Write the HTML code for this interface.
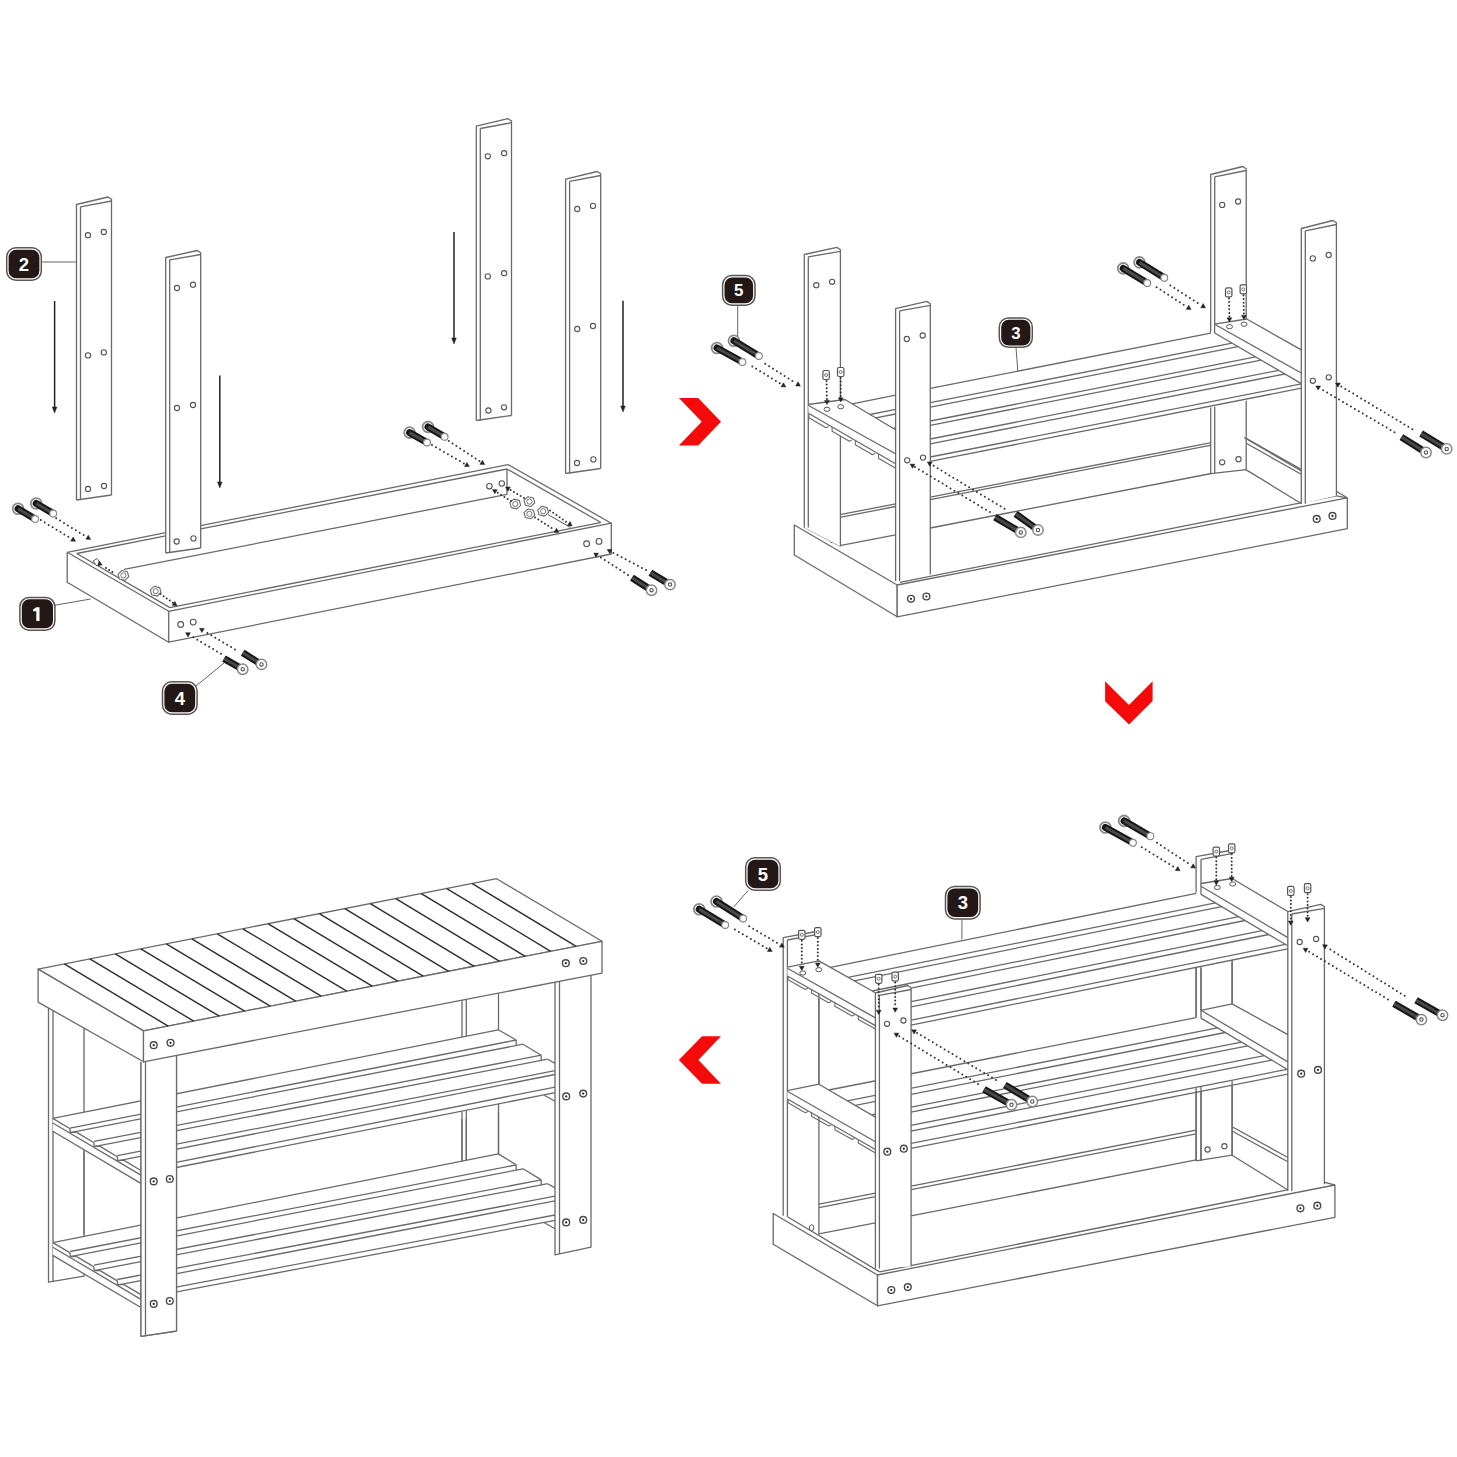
<!DOCTYPE html>
<html><head><meta charset="utf-8"><style>
html,body{margin:0;padding:0;background:#fff;}
svg{display:block;}
</style></head><body>
<svg width="1457" height="1457" viewBox="0 0 1457 1457">
<rect width="1457" height="1457" fill="#fff"/>
<polygon points="76.5,204.5 108.0,197.0 111.5,199.3 111.5,495.0 76.5,500.0" fill="#fff" stroke="none" stroke-width="0" stroke-linejoin="round"/>
<polyline points="76.5,500.0 76.5,204.5 108.0,197.0 111.5,199.3 111.5,495.0" fill="none" stroke="#6a6a6a" stroke-width="1.3" stroke-linejoin="round"/>
<line x1="80.5" y1="206.8" x2="111.5" y2="201.0" stroke="#6a6a6a" stroke-width="1.3"/>
<line x1="80.5" y1="206.8" x2="80.5" y2="500.0" stroke="#6a6a6a" stroke-width="1.3"/>
<line x1="76.5" y1="500.0" x2="111.5" y2="495.0" stroke="#6a6a6a" stroke-width="1.3"/>
<circle cx="88.0" cy="235.2" r="2.6" fill="#fff" stroke="#555" stroke-width="1.1"/>
<circle cx="103.8" cy="232.0" r="2.6" fill="#fff" stroke="#555" stroke-width="1.1"/>
<circle cx="88.0" cy="355.4" r="2.6" fill="#fff" stroke="#555" stroke-width="1.1"/>
<circle cx="103.8" cy="352.4" r="2.6" fill="#fff" stroke="#555" stroke-width="1.1"/>
<circle cx="88.0" cy="489.0" r="2.6" fill="#fff" stroke="#555" stroke-width="1.1"/>
<circle cx="104.0" cy="486.0" r="2.6" fill="#fff" stroke="#555" stroke-width="1.1"/>
<polygon points="165.7,257.5 197.2,250.5 200.7,252.8 200.7,548.0 165.7,553.0" fill="#fff" stroke="none" stroke-width="0" stroke-linejoin="round"/>
<polyline points="165.7,553.0 165.7,257.5 197.2,250.5 200.7,252.8 200.7,548.0" fill="none" stroke="#6a6a6a" stroke-width="1.3" stroke-linejoin="round"/>
<line x1="169.7" y1="259.8" x2="200.7" y2="254.5" stroke="#6a6a6a" stroke-width="1.3"/>
<line x1="169.7" y1="259.8" x2="169.7" y2="553.0" stroke="#6a6a6a" stroke-width="1.3"/>
<line x1="165.7" y1="553.0" x2="200.7" y2="548.0" stroke="#6a6a6a" stroke-width="1.3"/>
<circle cx="177.0" cy="288.0" r="2.6" fill="#fff" stroke="#555" stroke-width="1.1"/>
<circle cx="193.0" cy="284.7" r="2.6" fill="#fff" stroke="#555" stroke-width="1.1"/>
<circle cx="177.0" cy="408.0" r="2.6" fill="#fff" stroke="#555" stroke-width="1.1"/>
<circle cx="193.0" cy="405.0" r="2.6" fill="#fff" stroke="#555" stroke-width="1.1"/>
<circle cx="176.7" cy="541.5" r="2.6" fill="#fff" stroke="#555" stroke-width="1.1"/>
<circle cx="193.5" cy="538.4" r="2.6" fill="#fff" stroke="#555" stroke-width="1.1"/>
<polygon points="476.3,126.2 508.0,118.7 511.5,121.0 511.5,415.5 476.3,420.5" fill="#fff" stroke="none" stroke-width="0" stroke-linejoin="round"/>
<polyline points="476.3,420.5 476.3,126.2 508.0,118.7 511.5,121.0 511.5,415.5" fill="none" stroke="#6a6a6a" stroke-width="1.3" stroke-linejoin="round"/>
<line x1="480.3" y1="128.5" x2="511.5" y2="122.7" stroke="#6a6a6a" stroke-width="1.3"/>
<line x1="480.3" y1="128.5" x2="480.3" y2="420.5" stroke="#6a6a6a" stroke-width="1.3"/>
<line x1="476.3" y1="420.5" x2="511.5" y2="415.5" stroke="#6a6a6a" stroke-width="1.3"/>
<circle cx="487.8" cy="156.3" r="2.6" fill="#fff" stroke="#555" stroke-width="1.1"/>
<circle cx="504.1" cy="153.2" r="2.6" fill="#fff" stroke="#555" stroke-width="1.1"/>
<circle cx="487.8" cy="276.4" r="2.6" fill="#fff" stroke="#555" stroke-width="1.1"/>
<circle cx="504.1" cy="273.2" r="2.6" fill="#fff" stroke="#555" stroke-width="1.1"/>
<circle cx="488.4" cy="410.5" r="2.6" fill="#fff" stroke="#555" stroke-width="1.1"/>
<circle cx="504.0" cy="407.3" r="2.6" fill="#fff" stroke="#555" stroke-width="1.1"/>
<polygon points="565.6,179.1 597.2,171.5 600.7,173.8 600.7,468.5 565.6,473.5" fill="#fff" stroke="none" stroke-width="0" stroke-linejoin="round"/>
<polyline points="565.6,473.5 565.6,179.1 597.2,171.5 600.7,173.8 600.7,468.5" fill="none" stroke="#6a6a6a" stroke-width="1.3" stroke-linejoin="round"/>
<line x1="569.6" y1="181.4" x2="600.7" y2="175.5" stroke="#6a6a6a" stroke-width="1.3"/>
<line x1="569.6" y1="181.4" x2="569.6" y2="473.5" stroke="#6a6a6a" stroke-width="1.3"/>
<line x1="565.6" y1="473.5" x2="600.7" y2="468.5" stroke="#6a6a6a" stroke-width="1.3"/>
<circle cx="577.2" cy="209.0" r="2.6" fill="#fff" stroke="#555" stroke-width="1.1"/>
<circle cx="593.0" cy="205.9" r="2.6" fill="#fff" stroke="#555" stroke-width="1.1"/>
<circle cx="577.2" cy="329.0" r="2.6" fill="#fff" stroke="#555" stroke-width="1.1"/>
<circle cx="593.0" cy="326.0" r="2.6" fill="#fff" stroke="#555" stroke-width="1.1"/>
<circle cx="577.0" cy="463.0" r="2.6" fill="#fff" stroke="#555" stroke-width="1.1"/>
<circle cx="593.4" cy="459.4" r="2.6" fill="#fff" stroke="#555" stroke-width="1.1"/>
<line x1="54.6" y1="301.0" x2="54.6" y2="409.0" stroke="#222" stroke-width="1.5"/>
<polygon points="54.6,413.0 52.3,407.0 56.9,407.0" fill="#222" stroke="#222" stroke-width="0.5" stroke-linejoin="round"/>
<line x1="219.8" y1="375.6" x2="219.8" y2="484.0" stroke="#222" stroke-width="1.5"/>
<polygon points="219.8,488.0 217.5,482.0 222.1,482.0" fill="#222" stroke="#222" stroke-width="0.5" stroke-linejoin="round"/>
<line x1="454.0" y1="232.0" x2="454.0" y2="340.0" stroke="#222" stroke-width="1.5"/>
<polygon points="454.0,344.0 451.7,338.0 456.3,338.0" fill="#222" stroke="#222" stroke-width="0.5" stroke-linejoin="round"/>
<line x1="623.0" y1="300.8" x2="623.0" y2="408.0" stroke="#222" stroke-width="1.5"/>
<polygon points="623.0,412.0 620.7,406.0 625.3,406.0" fill="#222" stroke="#222" stroke-width="0.5" stroke-linejoin="round"/>
<polyline points="67.2,552.3 67.2,582.3 168.7,642.2 168.7,611.3 67.2,552.3" fill="none" stroke="#6a6a6a" stroke-width="1.3" stroke-linejoin="round"/>
<polyline points="168.7,611.3 611.3,523.2 611.3,554.0 168.7,642.2" fill="none" stroke="#6a6a6a" stroke-width="1.3" stroke-linejoin="round"/>
<polyline points="508.0,464.6 611.3,523.2" fill="none" stroke="#6a6a6a" stroke-width="1.3" stroke-linejoin="round"/>
<line x1="507.0" y1="469.0" x2="601.0" y2="522.5" stroke="#6a6a6a" stroke-width="1.3"/>
<line x1="67.2" y1="552.3" x2="165.7" y2="532.7" stroke="#6a6a6a" stroke-width="1.3"/>
<line x1="200.7" y1="525.7" x2="508.0" y2="464.6" stroke="#6a6a6a" stroke-width="1.3"/>
<line x1="76.8" y1="553.5" x2="165.7" y2="535.8" stroke="#6a6a6a" stroke-width="1.3"/>
<line x1="200.7" y1="528.8" x2="507.0" y2="469.0" stroke="#6a6a6a" stroke-width="1.3"/>
<line x1="76.8" y1="553.5" x2="169.9" y2="607.6" stroke="#6a6a6a" stroke-width="1.3"/>
<line x1="169.9" y1="607.6" x2="600.4" y2="522.6" stroke="#6a6a6a" stroke-width="1.3"/>
<line x1="124.0" y1="569.4" x2="507.0" y2="494.4" stroke="#6a6a6a" stroke-width="1.3"/>
<line x1="507.0" y1="469.0" x2="507.0" y2="494.4" stroke="#6a6a6a" stroke-width="1.3"/>
<circle cx="180.7" cy="624.5" r="2.9" fill="#fff" stroke="#555" stroke-width="1.1"/>
<circle cx="193.2" cy="622.1" r="2.9" fill="#fff" stroke="#555" stroke-width="1.1"/>
<circle cx="586.6" cy="543.8" r="2.9" fill="#fff" stroke="#555" stroke-width="1.1"/>
<circle cx="599.0" cy="541.4" r="2.9" fill="#fff" stroke="#555" stroke-width="1.1"/>
<circle cx="489.4" cy="486.2" r="2.7" fill="#fff" stroke="#555" stroke-width="1.1"/>
<circle cx="501.8" cy="483.5" r="2.7" fill="#fff" stroke="#555" stroke-width="1.1"/>
<polygon points="128.8,576.7 124.8,580.3 119.4,579.0 118.0,574.1 122.0,570.5 127.4,571.8" fill="#fff" stroke="#6a6a6a" stroke-width="1.1" stroke-linejoin="round"/>
<circle cx="123.4" cy="575.4" r="2.6" fill="#fff" stroke="#777" stroke-width="1"/>
<polygon points="161.1,592.5 157.1,596.1 151.7,594.8 150.3,589.9 154.3,586.3 159.7,587.6" fill="#fff" stroke="#6a6a6a" stroke-width="1.1" stroke-linejoin="round"/>
<circle cx="155.7" cy="591.2" r="2.6" fill="#fff" stroke="#777" stroke-width="1"/>
<polygon points="520.7,505.3 516.7,508.9 511.3,507.6 509.9,502.7 513.9,499.1 519.3,500.4" fill="#fff" stroke="#6a6a6a" stroke-width="1.1" stroke-linejoin="round"/>
<circle cx="515.3" cy="504.0" r="2.6" fill="#fff" stroke="#777" stroke-width="1"/>
<polygon points="534.8,502.9 530.8,506.5 525.4,505.2 524.0,500.3 528.0,496.7 533.4,498.0" fill="#fff" stroke="#6a6a6a" stroke-width="1.1" stroke-linejoin="round"/>
<circle cx="529.4" cy="501.6" r="2.6" fill="#fff" stroke="#777" stroke-width="1"/>
<polygon points="534.8,515.2 530.8,518.8 525.4,517.5 524.0,512.6 528.0,509.0 533.4,510.3" fill="#fff" stroke="#6a6a6a" stroke-width="1.1" stroke-linejoin="round"/>
<circle cx="529.4" cy="513.9" r="2.6" fill="#fff" stroke="#777" stroke-width="1"/>
<polygon points="548.5,512.5 544.5,516.1 539.1,514.8 537.7,509.9 541.7,506.3 547.1,507.6" fill="#fff" stroke="#6a6a6a" stroke-width="1.1" stroke-linejoin="round"/>
<circle cx="543.1" cy="511.2" r="2.6" fill="#fff" stroke="#777" stroke-width="1"/>
<polygon points="93.0,561.0 97.0,558.5 101.0,563.5 97.0,566.0" fill="#fff" stroke="#666" stroke-width="1" stroke-linejoin="round"/>
<circle cx="106.0" cy="568.0" r="1.0" fill="#333"/>
<circle cx="109.2" cy="570.1" r="1.0" fill="#333"/>
<circle cx="112.4" cy="572.1" r="1.0" fill="#333"/>
<polygon points="102.2,565.1 99.0,561.2 97.8,565.5" fill="#222" stroke="#222" stroke-width="0.5" stroke-linejoin="round"/>
<circle cx="160.5" cy="594.0" r="1.0" fill="#333"/>
<circle cx="163.6" cy="596.2" r="1.0" fill="#333"/>
<circle cx="166.7" cy="598.4" r="1.0" fill="#333"/>
<circle cx="169.8" cy="600.6" r="1.0" fill="#333"/>
<circle cx="172.9" cy="602.8" r="1.0" fill="#333"/>
<polygon points="177.0,605.8 172.2,605.3 175.0,601.4" fill="#222" stroke="#222" stroke-width="0.5" stroke-linejoin="round"/>
<circle cx="511.0" cy="501.0" r="1.0" fill="#333"/>
<circle cx="507.7" cy="498.9" r="1.0" fill="#333"/>
<circle cx="504.4" cy="496.9" r="1.0" fill="#333"/>
<circle cx="501.1" cy="494.8" r="1.0" fill="#333"/>
<circle cx="497.8" cy="492.8" r="1.0" fill="#333"/>
<polygon points="492.5,489.5 497.3,489.7 494.8,493.8" fill="#222" stroke="#222" stroke-width="0.5" stroke-linejoin="round"/>
<circle cx="524.0" cy="498.0" r="1.0" fill="#333"/>
<circle cx="520.6" cy="496.0" r="1.0" fill="#333"/>
<circle cx="517.3" cy="494.0" r="1.0" fill="#333"/>
<circle cx="513.9" cy="492.0" r="1.0" fill="#333"/>
<circle cx="510.6" cy="490.0" r="1.0" fill="#333"/>
<polygon points="505.5,487.0 510.3,487.1 507.9,491.2" fill="#222" stroke="#222" stroke-width="0.5" stroke-linejoin="round"/>
<circle cx="535.0" cy="517.5" r="1.0" fill="#333"/>
<circle cx="538.3" cy="519.6" r="1.0" fill="#333"/>
<circle cx="541.6" cy="521.7" r="1.0" fill="#333"/>
<circle cx="544.9" cy="523.7" r="1.0" fill="#333"/>
<circle cx="548.2" cy="525.8" r="1.0" fill="#333"/>
<circle cx="551.5" cy="527.9" r="1.0" fill="#333"/>
<polygon points="558.8,532.5 554.0,532.3 556.5,528.2" fill="#222" stroke="#222" stroke-width="0.5" stroke-linejoin="round"/>
<line x1="548.0" y1="514.5" x2="570.5" y2="527.5" stroke="#555" stroke-width="1.0"/>
<circle cx="550.0" cy="510.5" r="1.0" fill="#333"/>
<circle cx="553.2" cy="512.7" r="1.0" fill="#333"/>
<circle cx="556.4" cy="515.0" r="1.0" fill="#333"/>
<circle cx="559.6" cy="517.2" r="1.0" fill="#333"/>
<circle cx="562.8" cy="519.4" r="1.0" fill="#333"/>
<circle cx="566.0" cy="521.7" r="1.0" fill="#333"/>
<polygon points="572.2,526.0 567.4,525.6 570.1,521.6" fill="#222" stroke="#222" stroke-width="0.5" stroke-linejoin="round"/>
<circle cx="18.1" cy="508.8" r="5.4" fill="#fff" stroke="#8a8a8a" stroke-width="1.8"/>
<line x1="18.1" y1="508.8" x2="35.1" y2="519.0" stroke="#161616" stroke-width="7" stroke-linecap="round"/>
<line x1="18.1" y1="508.8" x2="35.1" y2="519.0" stroke="#4a4a4a" stroke-width="3"/>
<circle cx="35.1" cy="519.0" r="3.4" fill="#fff" stroke="#888" stroke-width="1.1"/>
<circle cx="36.2" cy="503.5" r="5.4" fill="#fff" stroke="#8a8a8a" stroke-width="1.8"/>
<line x1="36.2" y1="503.5" x2="53.2" y2="513.5" stroke="#161616" stroke-width="7" stroke-linecap="round"/>
<line x1="36.2" y1="503.5" x2="53.2" y2="513.5" stroke="#4a4a4a" stroke-width="3"/>
<circle cx="53.2" cy="513.5" r="3.4" fill="#fff" stroke="#888" stroke-width="1.1"/>
<circle cx="40.8" cy="520.1" r="1.0" fill="#333"/>
<circle cx="44.7" cy="522.5" r="1.0" fill="#333"/>
<circle cx="48.7" cy="524.9" r="1.0" fill="#333"/>
<circle cx="52.6" cy="527.3" r="1.0" fill="#333"/>
<circle cx="56.5" cy="529.7" r="1.0" fill="#333"/>
<circle cx="60.5" cy="532.0" r="1.0" fill="#333"/>
<circle cx="64.4" cy="534.4" r="1.0" fill="#333"/>
<circle cx="68.3" cy="536.8" r="1.0" fill="#333"/>
<polygon points="75.5,541.2 70.7,541.1 73.2,537.0" fill="#222" stroke="#222" stroke-width="0.5" stroke-linejoin="round"/>
<circle cx="56.2" cy="518.2" r="1.0" fill="#333"/>
<circle cx="60.1" cy="520.6" r="1.0" fill="#333"/>
<circle cx="64.0" cy="523.0" r="1.0" fill="#333"/>
<circle cx="67.9" cy="525.4" r="1.0" fill="#333"/>
<circle cx="71.9" cy="527.9" r="1.0" fill="#333"/>
<circle cx="75.8" cy="530.3" r="1.0" fill="#333"/>
<circle cx="79.7" cy="532.7" r="1.0" fill="#333"/>
<circle cx="83.6" cy="535.1" r="1.0" fill="#333"/>
<polygon points="90.6,539.4 85.8,539.2 88.3,535.2" fill="#222" stroke="#222" stroke-width="0.5" stroke-linejoin="round"/>
<circle cx="409.6" cy="432.6" r="5.4" fill="#fff" stroke="#8a8a8a" stroke-width="1.8"/>
<line x1="409.6" y1="432.6" x2="427.0" y2="442.5" stroke="#161616" stroke-width="7" stroke-linecap="round"/>
<line x1="409.6" y1="432.6" x2="427.0" y2="442.5" stroke="#4a4a4a" stroke-width="3"/>
<circle cx="427.0" cy="442.5" r="3.4" fill="#fff" stroke="#888" stroke-width="1.1"/>
<circle cx="428.0" cy="426.9" r="5.4" fill="#fff" stroke="#8a8a8a" stroke-width="1.8"/>
<line x1="428.0" y1="426.9" x2="444.6" y2="436.8" stroke="#161616" stroke-width="7" stroke-linecap="round"/>
<line x1="428.0" y1="426.9" x2="444.6" y2="436.8" stroke="#4a4a4a" stroke-width="3"/>
<circle cx="444.6" cy="436.8" r="3.4" fill="#fff" stroke="#888" stroke-width="1.1"/>
<circle cx="432.0" cy="445.0" r="1.0" fill="#333"/>
<circle cx="436.0" cy="447.3" r="1.0" fill="#333"/>
<circle cx="440.0" cy="449.6" r="1.0" fill="#333"/>
<circle cx="443.9" cy="451.9" r="1.0" fill="#333"/>
<circle cx="447.9" cy="454.2" r="1.0" fill="#333"/>
<circle cx="451.9" cy="456.5" r="1.0" fill="#333"/>
<circle cx="455.9" cy="458.8" r="1.0" fill="#333"/>
<circle cx="459.9" cy="461.1" r="1.0" fill="#333"/>
<circle cx="463.8" cy="463.4" r="1.0" fill="#333"/>
<polygon points="469.3,466.6 464.5,466.6 466.9,462.4" fill="#222" stroke="#222" stroke-width="0.5" stroke-linejoin="round"/>
<circle cx="448.7" cy="440.9" r="1.0" fill="#333"/>
<circle cx="452.5" cy="443.4" r="1.0" fill="#333"/>
<circle cx="456.4" cy="446.0" r="1.0" fill="#333"/>
<circle cx="460.2" cy="448.5" r="1.0" fill="#333"/>
<circle cx="464.1" cy="451.0" r="1.0" fill="#333"/>
<circle cx="467.9" cy="453.5" r="1.0" fill="#333"/>
<circle cx="471.8" cy="456.1" r="1.0" fill="#333"/>
<circle cx="475.6" cy="458.6" r="1.0" fill="#333"/>
<circle cx="479.4" cy="461.1" r="1.0" fill="#333"/>
<polygon points="484.7,464.6 479.9,464.3 482.5,460.3" fill="#222" stroke="#222" stroke-width="0.5" stroke-linejoin="round"/>
<line x1="224.0" y1="658.6" x2="242.7" y2="669.2" stroke="#161616" stroke-width="7"/>
<line x1="224.0" y1="658.6" x2="242.7" y2="669.2" stroke="#474747" stroke-width="3"/>
<circle cx="242.7" cy="669.2" r="5.2" fill="#fff" stroke="#888" stroke-width="1.5"/>
<circle cx="242.7" cy="669.2" r="1.7" fill="#fff" stroke="#555" stroke-width="1.1"/>
<line x1="242.7" y1="652.8" x2="261.5" y2="664.4" stroke="#161616" stroke-width="7"/>
<line x1="242.7" y1="652.8" x2="261.5" y2="664.4" stroke="#474747" stroke-width="3"/>
<circle cx="261.5" cy="664.4" r="5.2" fill="#fff" stroke="#888" stroke-width="1.5"/>
<circle cx="261.5" cy="664.4" r="1.7" fill="#fff" stroke="#555" stroke-width="1.1"/>
<circle cx="221.0" cy="653.8" r="1.0" fill="#333"/>
<circle cx="217.0" cy="651.4" r="1.0" fill="#333"/>
<circle cx="213.1" cy="649.1" r="1.0" fill="#333"/>
<circle cx="209.1" cy="646.7" r="1.0" fill="#333"/>
<circle cx="205.2" cy="644.4" r="1.0" fill="#333"/>
<circle cx="201.2" cy="642.0" r="1.0" fill="#333"/>
<circle cx="197.3" cy="639.7" r="1.0" fill="#333"/>
<circle cx="193.3" cy="637.3" r="1.0" fill="#333"/>
<polygon points="185.6,632.7 190.4,632.8 188.0,636.9" fill="#222" stroke="#222" stroke-width="0.5" stroke-linejoin="round"/>
<circle cx="235.0" cy="649.5" r="1.0" fill="#333"/>
<circle cx="231.1" cy="647.1" r="1.0" fill="#333"/>
<circle cx="227.1" cy="644.8" r="1.0" fill="#333"/>
<circle cx="223.2" cy="642.4" r="1.0" fill="#333"/>
<circle cx="219.2" cy="640.1" r="1.0" fill="#333"/>
<circle cx="215.3" cy="637.7" r="1.0" fill="#333"/>
<circle cx="211.3" cy="635.3" r="1.0" fill="#333"/>
<circle cx="207.4" cy="633.0" r="1.0" fill="#333"/>
<polygon points="199.5,628.3 204.3,628.4 201.9,632.5" fill="#222" stroke="#222" stroke-width="0.5" stroke-linejoin="round"/>
<line x1="632.0" y1="577.8" x2="651.5" y2="590.2" stroke="#161616" stroke-width="7"/>
<line x1="632.0" y1="577.8" x2="651.5" y2="590.2" stroke="#474747" stroke-width="3"/>
<circle cx="651.5" cy="590.2" r="5.2" fill="#fff" stroke="#888" stroke-width="1.5"/>
<circle cx="651.5" cy="590.2" r="1.7" fill="#fff" stroke="#555" stroke-width="1.1"/>
<line x1="650.4" y1="572.7" x2="670.0" y2="584.6" stroke="#161616" stroke-width="7"/>
<line x1="650.4" y1="572.7" x2="670.0" y2="584.6" stroke="#474747" stroke-width="3"/>
<circle cx="670.0" cy="584.6" r="5.2" fill="#fff" stroke="#888" stroke-width="1.5"/>
<circle cx="670.0" cy="584.6" r="1.7" fill="#fff" stroke="#555" stroke-width="1.1"/>
<circle cx="628.0" cy="575.0" r="1.0" fill="#333"/>
<circle cx="624.1" cy="572.5" r="1.0" fill="#333"/>
<circle cx="620.3" cy="570.0" r="1.0" fill="#333"/>
<circle cx="616.4" cy="567.5" r="1.0" fill="#333"/>
<circle cx="612.5" cy="565.0" r="1.0" fill="#333"/>
<circle cx="608.7" cy="562.6" r="1.0" fill="#333"/>
<circle cx="604.8" cy="560.1" r="1.0" fill="#333"/>
<circle cx="600.9" cy="557.6" r="1.0" fill="#333"/>
<polygon points="593.8,553.0 598.6,553.3 596.0,557.3" fill="#222" stroke="#222" stroke-width="0.5" stroke-linejoin="round"/>
<circle cx="646.0" cy="570.0" r="1.0" fill="#333"/>
<circle cx="641.9" cy="567.9" r="1.0" fill="#333"/>
<circle cx="637.9" cy="565.7" r="1.0" fill="#333"/>
<circle cx="633.8" cy="563.6" r="1.0" fill="#333"/>
<circle cx="629.7" cy="561.4" r="1.0" fill="#333"/>
<circle cx="625.6" cy="559.3" r="1.0" fill="#333"/>
<circle cx="621.6" cy="557.2" r="1.0" fill="#333"/>
<circle cx="617.5" cy="555.0" r="1.0" fill="#333"/>
<circle cx="613.4" cy="552.9" r="1.0" fill="#333"/>
<polygon points="607.2,549.6 612.0,549.4 609.8,553.7" fill="#222" stroke="#222" stroke-width="0.5" stroke-linejoin="round"/>
<rect x="6.7" y="247.8" width="34.6" height="32.4" rx="9.2" fill="#fff" stroke="#5a5452" stroke-width="1.5"/>
<rect x="8.6" y="249.7" width="30.8" height="28.6" rx="7.5" fill="#231815"/>
<text x="24.0" y="270.6" font-family="Liberation Sans" font-weight="bold" font-size="18.5" fill="#fff" text-anchor="middle">2</text>
<line x1="41.5" y1="262.0" x2="76.5" y2="262.0" stroke="#666" stroke-width="1"/>
<rect x="19.9" y="597.4" width="35" height="32.8" rx="9.2" fill="#fff" stroke="#5a5452" stroke-width="1.5"/>
<rect x="21.8" y="599.3" width="31.2" height="29.0" rx="7.5" fill="#231815"/>
<path d="M36.3,607.2 L39.5,607.2 L39.5,621.0 L36.3,621.0 L36.3,611.2 L33.1,611.2 L33.1,609.4 Z" fill="#fff"/>
<line x1="55.0" y1="605.2" x2="90.6" y2="599.0" stroke="#666" stroke-width="1"/>
<rect x="162.5" y="681.8" width="34.6" height="32.4" rx="9.2" fill="#fff" stroke="#5a5452" stroke-width="1.5"/>
<rect x="164.4" y="683.7" width="30.8" height="28.6" rx="7.5" fill="#231815"/>
<text x="179.8" y="704.6" font-family="Liberation Sans" font-weight="bold" font-size="18.5" fill="#fff" text-anchor="middle">4</text>
<line x1="196.0" y1="686.0" x2="224.0" y2="663.0" stroke="#666" stroke-width="1"/>
<polygon points="678.9,398.1 698.2,398.1 721.0,421.7 698.2,445.6 678.9,445.6 701.7,421.7" fill="#f50a0a"/>
<polygon points="1105.1,681.3 1105.1,701.3 1129.0,724.4 1152.6,701.0 1152.6,681.3 1129.0,705.1" fill="#f50a0a"/>
<polygon points="678.9,1060.1 702.0,1036.2 721.0,1036.2 698.4,1060.1 721.0,1083.7 702.0,1083.7" fill="#f50a0a"/>
<line x1="839.8" y1="514.7" x2="895.6" y2="503.9" stroke="#6a6a6a" stroke-width="1.3"/>
<line x1="839.8" y1="517.3" x2="895.6" y2="506.5" stroke="#6a6a6a" stroke-width="1.3"/>
<line x1="930.3" y1="497.1" x2="1211.4" y2="442.6" stroke="#6a6a6a" stroke-width="1.3"/>
<line x1="930.3" y1="499.7" x2="1211.4" y2="445.2" stroke="#6a6a6a" stroke-width="1.3"/>
<line x1="839.8" y1="545.6" x2="895.6" y2="534.8" stroke="#6a6a6a" stroke-width="1.3"/>
<line x1="930.3" y1="528.0" x2="1211.4" y2="473.5" stroke="#6a6a6a" stroke-width="1.3"/>
<line x1="1245.8" y1="438.1" x2="1301.6" y2="469.6" stroke="#6a6a6a" stroke-width="1.3"/>
<line x1="1245.8" y1="443.0" x2="1301.6" y2="474.5" stroke="#6a6a6a" stroke-width="1.3"/>
<line x1="1245.8" y1="469.6" x2="1301.6" y2="503.7" stroke="#6a6a6a" stroke-width="1.3"/>
<line x1="804.0" y1="527.0" x2="839.8" y2="546.0" stroke="#6a6a6a" stroke-width="1.3"/>
<ellipse cx="832" cy="539.6" rx="2.2" ry="3" fill="#fff" stroke="#555" stroke-width="1"/>
<polygon points="804.3,254.5 836.9,247.4 840.4,249.7 840.4,546.4 804.3,527.5" fill="#fff" stroke="none" stroke-width="0" stroke-linejoin="round"/>
<polyline points="804.3,527.5 804.3,254.5 836.9,247.4 840.4,249.7 840.4,546.4" fill="none" stroke="#6a6a6a" stroke-width="1.3" stroke-linejoin="round"/>
<line x1="808.3" y1="256.8" x2="840.4" y2="251.4" stroke="#6a6a6a" stroke-width="1.3"/>
<line x1="808.3" y1="256.8" x2="808.3" y2="527.5" stroke="#6a6a6a" stroke-width="1.3"/>
<circle cx="816.3" cy="285.2" r="2.6" fill="#fff" stroke="#555" stroke-width="1.1"/>
<circle cx="832.1" cy="281.8" r="2.6" fill="#fff" stroke="#555" stroke-width="1.1"/>
<polygon points="1210.7,174.5 1242.7,166.5 1246.2,168.8 1246.2,469.6 1210.7,473.6" fill="#fff" stroke="none" stroke-width="0" stroke-linejoin="round"/>
<polyline points="1210.7,473.6 1210.7,174.5 1242.7,166.5 1246.2,168.8 1246.2,469.6" fill="none" stroke="#6a6a6a" stroke-width="1.3" stroke-linejoin="round"/>
<line x1="1214.7" y1="176.8" x2="1246.2" y2="170.5" stroke="#6a6a6a" stroke-width="1.3"/>
<line x1="1214.7" y1="176.8" x2="1214.7" y2="473.6" stroke="#6a6a6a" stroke-width="1.3"/>
<line x1="1210.7" y1="473.6" x2="1246.2" y2="469.6" stroke="#6a6a6a" stroke-width="1.3"/>
<circle cx="1222.2" cy="204.9" r="2.6" fill="#fff" stroke="#555" stroke-width="1.1"/>
<circle cx="1238.1" cy="201.5" r="2.6" fill="#fff" stroke="#555" stroke-width="1.1"/>
<circle cx="1222.2" cy="462.3" r="2.6" fill="#fff" stroke="#555" stroke-width="1.1"/>
<circle cx="1238.5" cy="459.2" r="2.6" fill="#fff" stroke="#555" stroke-width="1.1"/>
<polygon points="808.1,404.5 845.0,399.5 1210.7,333.2 1214.6,324.2 1246.7,319.0 1301.3,349.9 1301.3,390.0 895.5,468.0 808.9,417.8" fill="#fff" stroke="none" stroke-width="0" stroke-linejoin="round"/>
<line x1="852.2" y1="403.8" x2="895.6" y2="395.2" stroke="#6a6a6a" stroke-width="1.3"/>
<line x1="930.3" y1="388.4" x2="1210.7" y2="333.2" stroke="#6a6a6a" stroke-width="1.3"/>
<line x1="870.0" y1="414.5" x2="895.6" y2="409.4" stroke="#6a6a6a" stroke-width="1.3"/>
<line x1="930.3" y1="402.6" x2="1232.1" y2="343.2" stroke="#6a6a6a" stroke-width="1.3"/>
<line x1="875.7" y1="417.9" x2="895.6" y2="414.0" stroke="#6a6a6a" stroke-width="1.3"/>
<line x1="930.3" y1="407.2" x2="1237.9" y2="346.6" stroke="#6a6a6a" stroke-width="1.3"/>
<line x1="893.1" y1="428.3" x2="895.6" y2="427.8" stroke="#6a6a6a" stroke-width="1.3"/>
<line x1="930.3" y1="421.0" x2="1255.6" y2="356.9" stroke="#6a6a6a" stroke-width="1.3"/>
<line x1="930.3" y1="425.3" x2="1261.1" y2="360.1" stroke="#6a6a6a" stroke-width="1.3"/>
<line x1="930.3" y1="439.0" x2="1278.6" y2="370.4" stroke="#6a6a6a" stroke-width="1.3"/>
<line x1="930.3" y1="443.8" x2="1284.7" y2="374.0" stroke="#6a6a6a" stroke-width="1.3"/>
<line x1="930.3" y1="457.0" x2="1301.3" y2="383.9" stroke="#6a6a6a" stroke-width="1.3"/>
<line x1="930.3" y1="461.3" x2="1301.3" y2="388.2" stroke="#6a6a6a" stroke-width="1.3"/>
<polyline points="808.1,404.5 845.0,399.5 895.5,429.8" fill="none" stroke="#6a6a6a" stroke-width="1.3" stroke-linejoin="round"/>
<line x1="808.1" y1="405.2" x2="895.5" y2="453.8" stroke="#6a6a6a" stroke-width="1.3"/>
<line x1="808.9" y1="413.5" x2="895.5" y2="463.8" stroke="#6a6a6a" stroke-width="1.3"/>
<polyline points="808.9,413.5 808.9,417.8 826.1,427.8 828.6,426.4" fill="none" stroke="#6a6a6a" stroke-width="1.1" stroke-linejoin="round"/>
<polyline points="832.1,427.0 832.1,431.3 849.3,441.3 851.8,439.9" fill="none" stroke="#6a6a6a" stroke-width="1.1" stroke-linejoin="round"/>
<polyline points="855.3,440.5 855.3,444.8 872.5,454.8 875.0,453.4" fill="none" stroke="#6a6a6a" stroke-width="1.1" stroke-linejoin="round"/>
<polyline points="878.5,453.9 878.5,458.2 895.7,468.2 898.2,466.8" fill="none" stroke="#6a6a6a" stroke-width="1.1" stroke-linejoin="round"/>
<polyline points="1214.6,324.2 1246.7,319.0 1301.3,349.9" fill="none" stroke="#6a6a6a" stroke-width="1.3" stroke-linejoin="round"/>
<line x1="1214.6" y1="324.2" x2="1301.3" y2="373.0" stroke="#6a6a6a" stroke-width="1.3"/>
<line x1="1214.7" y1="333.0" x2="1301.3" y2="383.6" stroke="#6a6a6a" stroke-width="1.3"/>
<line x1="1214.6" y1="324.2" x2="1214.6" y2="333.0" stroke="#6a6a6a" stroke-width="1.3"/>
<rect x="822.9" y="370.5" width="6.4" height="9" rx="1.5" fill="#fff" stroke="#555" stroke-width="1.2"/>
<circle cx="826.1" cy="375.0" r="1.5" fill="#fff" stroke="#555" stroke-width="0.8"/>
<rect x="837.5" y="367.5" width="6.4" height="9" rx="1.5" fill="#fff" stroke="#555" stroke-width="1.2"/>
<circle cx="840.7" cy="372.0" r="1.5" fill="#fff" stroke="#555" stroke-width="0.8"/>
<circle cx="826.5" cy="381.0" r="1.0" fill="#333"/>
<circle cx="826.6" cy="384.6" r="1.0" fill="#333"/>
<circle cx="826.7" cy="388.2" r="1.0" fill="#333"/>
<circle cx="826.7" cy="391.8" r="1.0" fill="#333"/>
<circle cx="826.8" cy="395.4" r="1.0" fill="#333"/>
<circle cx="826.9" cy="399.0" r="1.0" fill="#333"/>
<polygon points="827.0,404.5 824.5,400.4 829.3,400.2" fill="#222" stroke="#222" stroke-width="0.5" stroke-linejoin="round"/>
<circle cx="840.7" cy="378.0" r="1.0" fill="#333"/>
<circle cx="840.7" cy="381.6" r="1.0" fill="#333"/>
<circle cx="840.7" cy="385.2" r="1.0" fill="#333"/>
<circle cx="840.7" cy="388.8" r="1.0" fill="#333"/>
<circle cx="840.7" cy="392.4" r="1.0" fill="#333"/>
<circle cx="840.7" cy="396.0" r="1.0" fill="#333"/>
<polygon points="840.7,402.0 838.3,397.8 843.1,397.8" fill="#222" stroke="#222" stroke-width="0.5" stroke-linejoin="round"/>
<ellipse cx="827" cy="409.3" rx="3" ry="2.1" fill="#fff" stroke="#555" stroke-width="1"/>
<ellipse cx="840.7" cy="406.7" rx="3" ry="2.1" fill="#fff" stroke="#555" stroke-width="1"/>
<rect x="1225.5" y="287.9" width="6.4" height="9" rx="1.5" fill="#fff" stroke="#555" stroke-width="1.2"/>
<circle cx="1228.7" cy="292.4" r="1.5" fill="#fff" stroke="#555" stroke-width="0.8"/>
<rect x="1240.1" y="284.8" width="6.4" height="9" rx="1.5" fill="#fff" stroke="#555" stroke-width="1.2"/>
<circle cx="1243.3" cy="289.3" r="1.5" fill="#fff" stroke="#555" stroke-width="0.8"/>
<circle cx="1229.0" cy="298.5" r="1.0" fill="#333"/>
<circle cx="1229.1" cy="302.1" r="1.0" fill="#333"/>
<circle cx="1229.2" cy="305.7" r="1.0" fill="#333"/>
<circle cx="1229.2" cy="309.3" r="1.0" fill="#333"/>
<circle cx="1229.3" cy="312.9" r="1.0" fill="#333"/>
<circle cx="1229.4" cy="316.5" r="1.0" fill="#333"/>
<polygon points="1229.5,322.0 1227.0,317.9 1231.8,317.7" fill="#222" stroke="#222" stroke-width="0.5" stroke-linejoin="round"/>
<circle cx="1243.5" cy="295.5" r="1.0" fill="#333"/>
<circle cx="1243.6" cy="299.1" r="1.0" fill="#333"/>
<circle cx="1243.6" cy="302.7" r="1.0" fill="#333"/>
<circle cx="1243.7" cy="306.3" r="1.0" fill="#333"/>
<circle cx="1243.8" cy="309.9" r="1.0" fill="#333"/>
<circle cx="1243.9" cy="313.5" r="1.0" fill="#333"/>
<polygon points="1244.0,319.5 1241.5,315.4 1246.3,315.3" fill="#222" stroke="#222" stroke-width="0.5" stroke-linejoin="round"/>
<ellipse cx="1229.5" cy="326.7" rx="3" ry="2.1" fill="#fff" stroke="#555" stroke-width="1"/>
<ellipse cx="1244.1" cy="324.2" rx="3" ry="2.1" fill="#fff" stroke="#555" stroke-width="1"/>
<polygon points="794.3,525.0 897.2,585.0 897.2,616.8 794.3,555.0" fill="#fff" stroke="#6a6a6a" stroke-width="1.3" stroke-linejoin="round"/>
<polygon points="897.2,585.0 1347.3,497.8 1347.3,528.7 897.2,616.8" fill="#fff" stroke="#6a6a6a" stroke-width="1.3" stroke-linejoin="round"/>
<line x1="1244.0" y1="437.5" x2="1347.3" y2="497.8" stroke="#6a6a6a" stroke-width="1.3"/>
<line x1="899.9" y1="582.3" x2="1336.4" y2="495.8" stroke="#6a6a6a" stroke-width="1.3"/>
<line x1="1336.4" y1="495.8" x2="1347.3" y2="497.8" stroke="#6a6a6a" stroke-width="1.3"/>
<circle cx="911.0" cy="598.8" r="3.4" fill="#fff" stroke="#4a4a4a" stroke-width="1.4"/>
<circle cx="911.0" cy="598.8" r="1.1" fill="#222"/>
<circle cx="926.4" cy="596.5" r="3.4" fill="#fff" stroke="#4a4a4a" stroke-width="1.4"/>
<circle cx="926.4" cy="596.5" r="1.1" fill="#222"/>
<circle cx="1316.7" cy="518.9" r="3.4" fill="#fff" stroke="#4a4a4a" stroke-width="1.4"/>
<circle cx="1316.7" cy="518.9" r="1.1" fill="#222"/>
<circle cx="1332.5" cy="515.9" r="3.4" fill="#fff" stroke="#4a4a4a" stroke-width="1.4"/>
<circle cx="1332.5" cy="515.9" r="1.1" fill="#222"/>
<polygon points="895.6,308.6 926.8,301.4 930.3,303.7 930.3,574.5 895.6,581.0" fill="#fff" stroke="none" stroke-width="0" stroke-linejoin="round"/>
<polyline points="895.6,581.0 895.6,308.6 926.8,301.4 930.3,303.7 930.3,574.5" fill="none" stroke="#6a6a6a" stroke-width="1.3" stroke-linejoin="round"/>
<line x1="899.6" y1="310.9" x2="930.3" y2="305.4" stroke="#6a6a6a" stroke-width="1.3"/>
<line x1="899.6" y1="310.9" x2="899.6" y2="581.0" stroke="#6a6a6a" stroke-width="1.3"/>
<circle cx="906.8" cy="339.0" r="2.6" fill="#fff" stroke="#555" stroke-width="1.1"/>
<circle cx="922.7" cy="335.5" r="2.6" fill="#fff" stroke="#555" stroke-width="1.1"/>
<circle cx="907.2" cy="460.3" r="2.6" fill="#fff" stroke="#555" stroke-width="1.1"/>
<circle cx="923.0" cy="457.6" r="2.6" fill="#fff" stroke="#555" stroke-width="1.1"/>
<polygon points="1301.3,228.5 1332.9,220.5 1336.4,222.8 1336.4,495.8 1301.3,503.7" fill="#fff" stroke="none" stroke-width="0" stroke-linejoin="round"/>
<polyline points="1301.3,503.7 1301.3,228.5 1332.9,220.5 1336.4,222.8 1336.4,495.8" fill="none" stroke="#6a6a6a" stroke-width="1.3" stroke-linejoin="round"/>
<line x1="1305.3" y1="230.8" x2="1336.4" y2="224.5" stroke="#6a6a6a" stroke-width="1.3"/>
<line x1="1305.3" y1="230.8" x2="1305.3" y2="503.7" stroke="#6a6a6a" stroke-width="1.3"/>
<circle cx="1312.8" cy="258.4" r="2.6" fill="#fff" stroke="#555" stroke-width="1.1"/>
<circle cx="1328.7" cy="255.0" r="2.6" fill="#fff" stroke="#555" stroke-width="1.1"/>
<circle cx="1312.8" cy="380.8" r="2.6" fill="#fff" stroke="#555" stroke-width="1.1"/>
<circle cx="1328.7" cy="377.3" r="2.6" fill="#fff" stroke="#555" stroke-width="1.1"/>
<circle cx="717.0" cy="348.0" r="5.4" fill="#fff" stroke="#8a8a8a" stroke-width="1.8"/>
<line x1="717.0" y1="348.0" x2="742.4" y2="362.0" stroke="#161616" stroke-width="7" stroke-linecap="round"/>
<line x1="717.0" y1="348.0" x2="742.4" y2="362.0" stroke="#4a4a4a" stroke-width="3"/>
<circle cx="742.4" cy="362.0" r="3.4" fill="#fff" stroke="#888" stroke-width="1.1"/>
<circle cx="733.9" cy="340.8" r="5.4" fill="#fff" stroke="#8a8a8a" stroke-width="1.8"/>
<line x1="733.9" y1="340.8" x2="758.9" y2="356.0" stroke="#161616" stroke-width="7" stroke-linecap="round"/>
<line x1="733.9" y1="340.8" x2="758.9" y2="356.0" stroke="#4a4a4a" stroke-width="3"/>
<circle cx="758.9" cy="356.0" r="3.4" fill="#fff" stroke="#888" stroke-width="1.1"/>
<circle cx="752.3" cy="366.4" r="1.0" fill="#333"/>
<circle cx="756.2" cy="368.8" r="1.0" fill="#333"/>
<circle cx="760.1" cy="371.2" r="1.0" fill="#333"/>
<circle cx="764.1" cy="373.6" r="1.0" fill="#333"/>
<circle cx="768.0" cy="376.0" r="1.0" fill="#333"/>
<circle cx="771.9" cy="378.4" r="1.0" fill="#333"/>
<circle cx="775.8" cy="380.9" r="1.0" fill="#333"/>
<circle cx="779.7" cy="383.3" r="1.0" fill="#333"/>
<polygon points="785.8,387.0 781.0,386.8 783.5,382.8" fill="#222" stroke="#222" stroke-width="0.5" stroke-linejoin="round"/>
<circle cx="765.2" cy="363.8" r="1.0" fill="#333"/>
<circle cx="769.1" cy="366.3" r="1.0" fill="#333"/>
<circle cx="773.0" cy="368.7" r="1.0" fill="#333"/>
<circle cx="776.9" cy="371.2" r="1.0" fill="#333"/>
<circle cx="780.7" cy="373.6" r="1.0" fill="#333"/>
<circle cx="784.6" cy="376.1" r="1.0" fill="#333"/>
<circle cx="788.5" cy="378.6" r="1.0" fill="#333"/>
<circle cx="792.4" cy="381.0" r="1.0" fill="#333"/>
<polygon points="800.4,386.1 795.6,385.9 798.1,381.8" fill="#222" stroke="#222" stroke-width="0.5" stroke-linejoin="round"/>
<rect x="722.6" y="275.6" width="32.4" height="29.6" rx="9.2" fill="#fff" stroke="#5a5452" stroke-width="1.5"/>
<rect x="724.5" y="277.5" width="28.6" height="25.8" rx="7.5" fill="#231815"/>
<text x="738.8" y="296.4" font-family="Liberation Sans" font-weight="bold" font-size="16.9" fill="#fff" text-anchor="middle">5</text>
<line x1="737.7" y1="305.5" x2="737.7" y2="336.0" stroke="#666" stroke-width="1"/>
<circle cx="1123.2" cy="268.4" r="5.4" fill="#fff" stroke="#8a8a8a" stroke-width="1.8"/>
<line x1="1123.2" y1="268.4" x2="1147.2" y2="283.0" stroke="#161616" stroke-width="7" stroke-linecap="round"/>
<line x1="1123.2" y1="268.4" x2="1147.2" y2="283.0" stroke="#4a4a4a" stroke-width="3"/>
<circle cx="1147.2" cy="283.0" r="3.4" fill="#fff" stroke="#888" stroke-width="1.1"/>
<circle cx="1139.5" cy="262.4" r="5.4" fill="#fff" stroke="#8a8a8a" stroke-width="1.8"/>
<line x1="1139.5" y1="262.4" x2="1164.3" y2="277.8" stroke="#161616" stroke-width="7" stroke-linecap="round"/>
<line x1="1139.5" y1="262.4" x2="1164.3" y2="277.8" stroke="#4a4a4a" stroke-width="3"/>
<circle cx="1164.3" cy="277.8" r="3.4" fill="#fff" stroke="#888" stroke-width="1.1"/>
<circle cx="1156.6" cy="287.3" r="1.0" fill="#333"/>
<circle cx="1160.5" cy="289.8" r="1.0" fill="#333"/>
<circle cx="1164.3" cy="292.3" r="1.0" fill="#333"/>
<circle cx="1168.2" cy="294.8" r="1.0" fill="#333"/>
<circle cx="1172.0" cy="297.3" r="1.0" fill="#333"/>
<circle cx="1175.9" cy="299.8" r="1.0" fill="#333"/>
<circle cx="1179.8" cy="302.3" r="1.0" fill="#333"/>
<circle cx="1183.6" cy="304.8" r="1.0" fill="#333"/>
<polygon points="1191.0,309.6 1186.2,309.3 1188.8,305.3" fill="#222" stroke="#222" stroke-width="0.5" stroke-linejoin="round"/>
<circle cx="1170.4" cy="285.6" r="1.0" fill="#333"/>
<circle cx="1174.3" cy="288.1" r="1.0" fill="#333"/>
<circle cx="1178.2" cy="290.5" r="1.0" fill="#333"/>
<circle cx="1182.0" cy="293.0" r="1.0" fill="#333"/>
<circle cx="1185.9" cy="295.5" r="1.0" fill="#333"/>
<circle cx="1189.8" cy="297.9" r="1.0" fill="#333"/>
<circle cx="1193.7" cy="300.4" r="1.0" fill="#333"/>
<circle cx="1197.6" cy="302.9" r="1.0" fill="#333"/>
<polygon points="1205.5,307.9 1200.7,307.7 1203.2,303.6" fill="#222" stroke="#222" stroke-width="0.5" stroke-linejoin="round"/>
<line x1="995.0" y1="517.3" x2="1020.8" y2="532.4" stroke="#161616" stroke-width="7"/>
<line x1="995.0" y1="517.3" x2="1020.8" y2="532.4" stroke="#474747" stroke-width="3"/>
<circle cx="1020.8" cy="532.4" r="5.2" fill="#fff" stroke="#888" stroke-width="1.5"/>
<circle cx="1020.8" cy="532.4" r="1.7" fill="#fff" stroke="#555" stroke-width="1.1"/>
<line x1="1015.6" y1="513.8" x2="1038.0" y2="530.0" stroke="#161616" stroke-width="7"/>
<line x1="1015.6" y1="513.8" x2="1038.0" y2="530.0" stroke="#474747" stroke-width="3"/>
<circle cx="1038.0" cy="530.0" r="5.2" fill="#fff" stroke="#888" stroke-width="1.5"/>
<circle cx="1038.0" cy="530.0" r="1.7" fill="#fff" stroke="#555" stroke-width="1.1"/>
<circle cx="989.9" cy="512.1" r="1.0" fill="#333"/>
<circle cx="986.0" cy="509.7" r="1.0" fill="#333"/>
<circle cx="982.0" cy="507.4" r="1.0" fill="#333"/>
<circle cx="978.1" cy="505.0" r="1.0" fill="#333"/>
<circle cx="974.1" cy="502.6" r="1.0" fill="#333"/>
<circle cx="970.2" cy="500.2" r="1.0" fill="#333"/>
<circle cx="966.2" cy="497.9" r="1.0" fill="#333"/>
<circle cx="962.3" cy="495.5" r="1.0" fill="#333"/>
<circle cx="958.4" cy="493.1" r="1.0" fill="#333"/>
<circle cx="954.4" cy="490.8" r="1.0" fill="#333"/>
<circle cx="950.5" cy="488.4" r="1.0" fill="#333"/>
<circle cx="946.5" cy="486.0" r="1.0" fill="#333"/>
<circle cx="942.6" cy="483.6" r="1.0" fill="#333"/>
<circle cx="938.7" cy="481.3" r="1.0" fill="#333"/>
<circle cx="934.7" cy="478.9" r="1.0" fill="#333"/>
<circle cx="930.8" cy="476.5" r="1.0" fill="#333"/>
<circle cx="926.8" cy="474.2" r="1.0" fill="#333"/>
<circle cx="922.9" cy="471.8" r="1.0" fill="#333"/>
<circle cx="918.9" cy="469.4" r="1.0" fill="#333"/>
<circle cx="915.0" cy="467.1" r="1.0" fill="#333"/>
<polygon points="910.1,464.1 914.9,464.2 912.5,468.3" fill="#222" stroke="#222" stroke-width="0.5" stroke-linejoin="round"/>
<circle cx="1004.5" cy="508.7" r="1.0" fill="#333"/>
<circle cx="1000.6" cy="506.3" r="1.0" fill="#333"/>
<circle cx="996.6" cy="503.9" r="1.0" fill="#333"/>
<circle cx="992.7" cy="501.6" r="1.0" fill="#333"/>
<circle cx="988.8" cy="499.2" r="1.0" fill="#333"/>
<circle cx="984.8" cy="496.8" r="1.0" fill="#333"/>
<circle cx="980.9" cy="494.4" r="1.0" fill="#333"/>
<circle cx="976.9" cy="492.0" r="1.0" fill="#333"/>
<circle cx="973.0" cy="489.7" r="1.0" fill="#333"/>
<circle cx="969.1" cy="487.3" r="1.0" fill="#333"/>
<circle cx="965.1" cy="484.9" r="1.0" fill="#333"/>
<circle cx="961.2" cy="482.5" r="1.0" fill="#333"/>
<circle cx="957.3" cy="480.1" r="1.0" fill="#333"/>
<circle cx="953.3" cy="477.7" r="1.0" fill="#333"/>
<circle cx="949.4" cy="475.4" r="1.0" fill="#333"/>
<circle cx="945.5" cy="473.0" r="1.0" fill="#333"/>
<circle cx="941.5" cy="470.6" r="1.0" fill="#333"/>
<circle cx="937.6" cy="468.2" r="1.0" fill="#333"/>
<circle cx="933.7" cy="465.8" r="1.0" fill="#333"/>
<polygon points="927.3,462.0 932.1,462.1 929.7,466.2" fill="#222" stroke="#222" stroke-width="0.5" stroke-linejoin="round"/>
<line x1="1401.4" y1="437.1" x2="1426.0" y2="452.5" stroke="#161616" stroke-width="7"/>
<line x1="1401.4" y1="437.1" x2="1426.0" y2="452.5" stroke="#474747" stroke-width="3"/>
<circle cx="1426.0" cy="452.5" r="5.2" fill="#fff" stroke="#888" stroke-width="1.5"/>
<circle cx="1426.0" cy="452.5" r="1.7" fill="#fff" stroke="#555" stroke-width="1.1"/>
<line x1="1421.1" y1="433.6" x2="1446.7" y2="448.9" stroke="#161616" stroke-width="7"/>
<line x1="1421.1" y1="433.6" x2="1446.7" y2="448.9" stroke="#474747" stroke-width="3"/>
<circle cx="1446.7" cy="448.9" r="5.2" fill="#fff" stroke="#888" stroke-width="1.5"/>
<circle cx="1446.7" cy="448.9" r="1.7" fill="#fff" stroke="#555" stroke-width="1.1"/>
<circle cx="1394.5" cy="432.2" r="1.0" fill="#333"/>
<circle cx="1390.5" cy="429.9" r="1.0" fill="#333"/>
<circle cx="1386.6" cy="427.5" r="1.0" fill="#333"/>
<circle cx="1382.6" cy="425.2" r="1.0" fill="#333"/>
<circle cx="1378.6" cy="422.9" r="1.0" fill="#333"/>
<circle cx="1374.7" cy="420.5" r="1.0" fill="#333"/>
<circle cx="1370.7" cy="418.2" r="1.0" fill="#333"/>
<circle cx="1366.7" cy="415.9" r="1.0" fill="#333"/>
<circle cx="1362.8" cy="413.5" r="1.0" fill="#333"/>
<circle cx="1358.8" cy="411.2" r="1.0" fill="#333"/>
<circle cx="1354.9" cy="408.9" r="1.0" fill="#333"/>
<circle cx="1350.9" cy="406.5" r="1.0" fill="#333"/>
<circle cx="1346.9" cy="404.2" r="1.0" fill="#333"/>
<circle cx="1343.0" cy="401.9" r="1.0" fill="#333"/>
<circle cx="1339.0" cy="399.5" r="1.0" fill="#333"/>
<circle cx="1335.0" cy="397.2" r="1.0" fill="#333"/>
<circle cx="1331.1" cy="394.9" r="1.0" fill="#333"/>
<circle cx="1327.1" cy="392.5" r="1.0" fill="#333"/>
<circle cx="1323.1" cy="390.2" r="1.0" fill="#333"/>
<polygon points="1315.8,385.9 1320.6,386.0 1318.2,390.1" fill="#222" stroke="#222" stroke-width="0.5" stroke-linejoin="round"/>
<circle cx="1412.3" cy="429.2" r="1.0" fill="#333"/>
<circle cx="1408.4" cy="426.8" r="1.0" fill="#333"/>
<circle cx="1404.4" cy="424.5" r="1.0" fill="#333"/>
<circle cx="1400.5" cy="422.1" r="1.0" fill="#333"/>
<circle cx="1396.5" cy="419.7" r="1.0" fill="#333"/>
<circle cx="1392.6" cy="417.3" r="1.0" fill="#333"/>
<circle cx="1388.6" cy="415.0" r="1.0" fill="#333"/>
<circle cx="1384.7" cy="412.6" r="1.0" fill="#333"/>
<circle cx="1380.8" cy="410.2" r="1.0" fill="#333"/>
<circle cx="1376.8" cy="407.9" r="1.0" fill="#333"/>
<circle cx="1372.9" cy="405.5" r="1.0" fill="#333"/>
<circle cx="1368.9" cy="403.1" r="1.0" fill="#333"/>
<circle cx="1365.0" cy="400.7" r="1.0" fill="#333"/>
<circle cx="1361.1" cy="398.4" r="1.0" fill="#333"/>
<circle cx="1357.1" cy="396.0" r="1.0" fill="#333"/>
<circle cx="1353.2" cy="393.6" r="1.0" fill="#333"/>
<circle cx="1349.2" cy="391.3" r="1.0" fill="#333"/>
<circle cx="1345.3" cy="388.9" r="1.0" fill="#333"/>
<circle cx="1341.3" cy="386.5" r="1.0" fill="#333"/>
<polygon points="1335.5,383.0 1340.3,383.1 1337.9,387.2" fill="#222" stroke="#222" stroke-width="0.5" stroke-linejoin="round"/>
<rect x="999.3" y="317.9" width="33" height="29.4" rx="9.2" fill="#fff" stroke="#5a5452" stroke-width="1.5"/>
<rect x="1001.2" y="319.8" width="29.2" height="25.6" rx="7.5" fill="#231815"/>
<text x="1015.8" y="338.6" font-family="Liberation Sans" font-weight="bold" font-size="16.8" fill="#fff" text-anchor="middle">3</text>
<line x1="1016.0" y1="347.5" x2="1017.8" y2="371.2" stroke="#666" stroke-width="1"/>
<line x1="818.9" y1="1204.1" x2="875.4" y2="1193.1" stroke="#6a6a6a" stroke-width="1.3"/>
<line x1="818.9" y1="1207.7" x2="875.4" y2="1196.7" stroke="#6a6a6a" stroke-width="1.3"/>
<line x1="818.9" y1="1233.8" x2="875.4" y2="1222.8" stroke="#6a6a6a" stroke-width="1.3"/>
<line x1="911.1" y1="1186.1" x2="1196.1" y2="1130.2" stroke="#6a6a6a" stroke-width="1.3"/>
<line x1="911.1" y1="1189.7" x2="1196.1" y2="1133.8" stroke="#6a6a6a" stroke-width="1.3"/>
<line x1="911.1" y1="1215.8" x2="1196.1" y2="1159.9" stroke="#6a6a6a" stroke-width="1.3"/>
<line x1="1232.1" y1="1126.8" x2="1288.3" y2="1157.8" stroke="#6a6a6a" stroke-width="1.3"/>
<line x1="1232.1" y1="1131.0" x2="1288.3" y2="1162.0" stroke="#6a6a6a" stroke-width="1.3"/>
<line x1="1232.1" y1="1155.2" x2="1288.3" y2="1190.2" stroke="#6a6a6a" stroke-width="1.3"/>
<line x1="787.5" y1="1216.8" x2="879.6" y2="1271.9" stroke="#6a6a6a" stroke-width="1.3"/>
<ellipse cx="811.6" cy="1227.8" rx="2.2" ry="3" fill="#fff" stroke="#555" stroke-width="1"/>
<polyline points="783.2,1215.7 783.2,937.6 818.9,931.0" fill="none" stroke="#6a6a6a" stroke-width="1.3" stroke-linejoin="round"/>
<line x1="787.4" y1="940.0" x2="818.9" y2="934.2" stroke="#6a6a6a" stroke-width="1.3"/>
<line x1="787.4" y1="940.0" x2="787.4" y2="1216.8" stroke="#6a6a6a" stroke-width="1.3"/>
<line x1="818.9" y1="960.9" x2="818.9" y2="1234.4" stroke="#6a6a6a" stroke-width="1.3"/>
<polyline points="1196.1,1160.9 1196.1,856.7 1232.8,850.0" fill="none" stroke="#6a6a6a" stroke-width="1.3" stroke-linejoin="round"/>
<line x1="1201.0" y1="859.3" x2="1232.8" y2="853.3" stroke="#6a6a6a" stroke-width="1.3"/>
<line x1="1201.0" y1="859.3" x2="1201.0" y2="1160.9" stroke="#6a6a6a" stroke-width="1.3"/>
<line x1="1232.1" y1="878.0" x2="1232.1" y2="1155.2" stroke="#6a6a6a" stroke-width="1.3"/>
<line x1="1196.1" y1="1160.9" x2="1232.1" y2="1155.2" stroke="#6a6a6a" stroke-width="1.3"/>
<circle cx="1207.6" cy="1149.5" r="2.6" fill="#fff" stroke="#555" stroke-width="1.1"/>
<circle cx="1224.4" cy="1146.2" r="2.6" fill="#fff" stroke="#555" stroke-width="1.1"/>
<polygon points="787.4,967.2 818.9,960.9 830.4,967.4 1196.1,893.3 1201.0,883.5 1232.1,878.5 1287.8,911.5 1287.8,950.0 875.4,1026.0 787.4,976.0" fill="#fff" stroke="none" stroke-width="0" stroke-linejoin="round"/>
<line x1="830.3" y1="967.3" x2="1196.1" y2="893.3" stroke="#6a6a6a" stroke-width="1.3"/>
<line x1="848.1" y1="977.3" x2="1215.4" y2="902.9" stroke="#6a6a6a" stroke-width="1.3"/>
<line x1="854.4" y1="980.9" x2="1221.6" y2="906.6" stroke="#6a6a6a" stroke-width="1.3"/>
<line x1="872.2" y1="991.0" x2="1238.7" y2="916.7" stroke="#6a6a6a" stroke-width="1.3"/>
<line x1="875.4" y1="995.3" x2="1245.0" y2="920.5" stroke="#6a6a6a" stroke-width="1.3"/>
<line x1="875.4" y1="1008.9" x2="1262.1" y2="930.6" stroke="#6a6a6a" stroke-width="1.3"/>
<line x1="875.4" y1="1014.2" x2="1268.8" y2="934.5" stroke="#6a6a6a" stroke-width="1.3"/>
<line x1="875.4" y1="1027.4" x2="1285.4" y2="944.4" stroke="#6a6a6a" stroke-width="1.3"/>
<line x1="875.4" y1="1032.3" x2="1287.8" y2="948.8" stroke="#6a6a6a" stroke-width="1.3"/>
<polyline points="787.4,967.2 818.9,960.9 875.4,992.8" fill="none" stroke="#6a6a6a" stroke-width="1.3" stroke-linejoin="round"/>
<line x1="787.4" y1="968.3" x2="875.4" y2="1017.9" stroke="#6a6a6a" stroke-width="1.3"/>
<line x1="787.4" y1="976.0" x2="875.4" y2="1025.6" stroke="#6a6a6a" stroke-width="1.3"/>
<polyline points="788.1,976.4 788.1,979.8 805.3,989.5 807.8,988.3" fill="none" stroke="#6a6a6a" stroke-width="1.1" stroke-linejoin="round"/>
<polyline points="811.5,989.6 811.5,993.0 828.7,1002.7 831.2,1001.5" fill="none" stroke="#6a6a6a" stroke-width="1.1" stroke-linejoin="round"/>
<polyline points="834.9,1002.8 834.9,1006.2 852.1,1015.9 854.6,1014.7" fill="none" stroke="#6a6a6a" stroke-width="1.1" stroke-linejoin="round"/>
<polyline points="858.3,1016.0 858.3,1019.4 875.5,1029.1 878.0,1027.9" fill="none" stroke="#6a6a6a" stroke-width="1.1" stroke-linejoin="round"/>
<polyline points="1201.0,883.5 1232.1,878.5 1287.8,911.5" fill="none" stroke="#6a6a6a" stroke-width="1.3" stroke-linejoin="round"/>
<line x1="1201.0" y1="886.2" x2="1287.8" y2="937.6" stroke="#6a6a6a" stroke-width="1.3"/>
<line x1="1201.0" y1="894.4" x2="1287.8" y2="945.8" stroke="#6a6a6a" stroke-width="1.3"/>
<polygon points="787.4,1090.7 818.9,1084.2 831.5,1090.2 1196.1,1017.5 1201.1,1010.3 1232.1,1003.9 1288.3,1034.9 1288.3,1070.0 875.4,1150.0 787.4,1099.0" fill="#fff" stroke="none" stroke-width="0" stroke-linejoin="round"/>
<line x1="828.9" y1="1090.0" x2="1196.1" y2="1017.6" stroke="#6a6a6a" stroke-width="1.3"/>
<line x1="847.3" y1="1100.8" x2="1217.5" y2="1027.8" stroke="#6a6a6a" stroke-width="1.3"/>
<line x1="855.3" y1="1105.4" x2="1225.3" y2="1032.5" stroke="#6a6a6a" stroke-width="1.3"/>
<line x1="871.7" y1="1114.9" x2="1241.5" y2="1042.1" stroke="#6a6a6a" stroke-width="1.3"/>
<line x1="875.4" y1="1119.1" x2="1247.7" y2="1045.8" stroke="#6a6a6a" stroke-width="1.3"/>
<line x1="875.4" y1="1132.3" x2="1264.4" y2="1055.7" stroke="#6a6a6a" stroke-width="1.3"/>
<line x1="875.4" y1="1138.1" x2="1271.7" y2="1060.1" stroke="#6a6a6a" stroke-width="1.3"/>
<line x1="875.4" y1="1150.4" x2="1287.3" y2="1069.3" stroke="#6a6a6a" stroke-width="1.3"/>
<line x1="875.4" y1="1155.4" x2="1287.8" y2="1074.2" stroke="#6a6a6a" stroke-width="1.3"/>
<polyline points="787.4,1090.7 818.9,1084.2 875.4,1117.1" fill="none" stroke="#6a6a6a" stroke-width="1.3" stroke-linejoin="round"/>
<line x1="787.4" y1="1091.3" x2="875.4" y2="1141.8" stroke="#6a6a6a" stroke-width="1.3"/>
<line x1="787.4" y1="1099.0" x2="875.4" y2="1149.5" stroke="#6a6a6a" stroke-width="1.3"/>
<polyline points="788.1,1099.4 788.1,1102.8 805.3,1112.7 807.8,1111.5" fill="none" stroke="#6a6a6a" stroke-width="1.1" stroke-linejoin="round"/>
<polyline points="811.5,1112.8 811.5,1116.2 828.7,1126.1 831.2,1124.9" fill="none" stroke="#6a6a6a" stroke-width="1.1" stroke-linejoin="round"/>
<polyline points="834.9,1126.3 834.9,1129.7 852.1,1139.5 854.6,1138.3" fill="none" stroke="#6a6a6a" stroke-width="1.1" stroke-linejoin="round"/>
<polyline points="858.3,1139.7 858.3,1143.1 875.5,1153.0 878.0,1151.8" fill="none" stroke="#6a6a6a" stroke-width="1.1" stroke-linejoin="round"/>
<polyline points="1201.0,1010.3 1232.1,1003.9 1287.8,1034.6" fill="none" stroke="#6a6a6a" stroke-width="1.3" stroke-linejoin="round"/>
<line x1="1201.0" y1="1010.3" x2="1287.8" y2="1061.9" stroke="#6a6a6a" stroke-width="1.3"/>
<line x1="1201.0" y1="1018.1" x2="1287.8" y2="1069.7" stroke="#6a6a6a" stroke-width="1.3"/>
<line x1="818.9" y1="999.0" x2="818.9" y2="1084.2" stroke="#6a6a6a" stroke-width="1.3"/>
<line x1="1196.1" y1="968.0" x2="1196.1" y2="1017.4" stroke="#6a6a6a" stroke-width="1.3"/>
<line x1="1201.0" y1="968.5" x2="1201.0" y2="1018.1" stroke="#6a6a6a" stroke-width="1.3"/>
<line x1="1201.0" y1="883.5" x2="1201.0" y2="894.4" stroke="#6a6a6a" stroke-width="1.3"/>
<line x1="1232.1" y1="961.4" x2="1232.1" y2="1003.9" stroke="#6a6a6a" stroke-width="1.3"/>
<line x1="1196.1" y1="1091.0" x2="1196.1" y2="1160.9" stroke="#6a6a6a" stroke-width="1.3"/>
<line x1="1201.0" y1="1091.0" x2="1201.0" y2="1160.9" stroke="#6a6a6a" stroke-width="1.3"/>
<line x1="1232.1" y1="1085.0" x2="1232.1" y2="1155.2" stroke="#6a6a6a" stroke-width="1.3"/>
<polygon points="773.2,1213.5 877.5,1275.0 877.5,1305.8 773.2,1244.3" fill="#fff" stroke="#6a6a6a" stroke-width="1.3" stroke-linejoin="round"/>
<polygon points="877.5,1275.0 1334.9,1185.0 1334.9,1217.3 877.5,1305.8" fill="#fff" stroke="#6a6a6a" stroke-width="1.3" stroke-linejoin="round"/>
<line x1="879.6" y1="1271.9" x2="1324.9" y2="1182.4" stroke="#6a6a6a" stroke-width="1.3"/>
<line x1="1324.9" y1="1182.4" x2="1334.9" y2="1185.0" stroke="#6a6a6a" stroke-width="1.3"/>
<circle cx="891.3" cy="1290.0" r="3.4" fill="#fff" stroke="#4a4a4a" stroke-width="1.4"/>
<circle cx="891.3" cy="1290.0" r="1.1" fill="#222"/>
<circle cx="907.8" cy="1287.1" r="3.4" fill="#fff" stroke="#4a4a4a" stroke-width="1.4"/>
<circle cx="907.8" cy="1287.1" r="1.1" fill="#222"/>
<circle cx="1300.4" cy="1208.3" r="3.4" fill="#fff" stroke="#4a4a4a" stroke-width="1.4"/>
<circle cx="1300.4" cy="1208.3" r="1.1" fill="#222"/>
<circle cx="1317.3" cy="1205.7" r="3.4" fill="#fff" stroke="#4a4a4a" stroke-width="1.4"/>
<circle cx="1317.3" cy="1205.7" r="1.1" fill="#222"/>
<polygon points="875.4,993.0 907.6,985.5 911.1,987.8 911.1,1266.4 875.4,1268.6" fill="#fff" stroke="none" stroke-width="0" stroke-linejoin="round"/>
<polyline points="875.4,1268.6 875.4,993.0 907.6,985.5 911.1,987.8 911.1,1266.4" fill="none" stroke="#6a6a6a" stroke-width="1.3" stroke-linejoin="round"/>
<line x1="879.4" y1="995.3" x2="911.1" y2="989.5" stroke="#6a6a6a" stroke-width="1.3"/>
<line x1="879.4" y1="995.3" x2="879.4" y2="1268.6" stroke="#6a6a6a" stroke-width="1.3"/>
<circle cx="887.0" cy="1023.8" r="2.6" fill="#fff" stroke="#555" stroke-width="1.1"/>
<circle cx="903.4" cy="1020.5" r="2.6" fill="#fff" stroke="#555" stroke-width="1.1"/>
<circle cx="887.3" cy="1151.7" r="3.4" fill="#fff" stroke="#4a4a4a" stroke-width="1.4"/>
<circle cx="887.3" cy="1151.7" r="1.1" fill="#222"/>
<circle cx="903.8" cy="1148.7" r="3.4" fill="#fff" stroke="#4a4a4a" stroke-width="1.4"/>
<circle cx="903.8" cy="1148.7" r="1.1" fill="#222"/>
<polygon points="1287.8,911.7 1320.9,904.4 1324.4,906.7 1324.4,1184.2 1287.8,1191.0" fill="#fff" stroke="none" stroke-width="0" stroke-linejoin="round"/>
<polyline points="1287.8,1191.0 1287.8,911.7 1320.9,904.4 1324.4,906.7 1324.4,1184.2" fill="none" stroke="#6a6a6a" stroke-width="1.3" stroke-linejoin="round"/>
<line x1="1291.8" y1="914.0" x2="1324.4" y2="908.4" stroke="#6a6a6a" stroke-width="1.3"/>
<line x1="1291.8" y1="914.0" x2="1291.8" y2="1191.0" stroke="#6a6a6a" stroke-width="1.3"/>
<circle cx="1299.7" cy="942.0" r="2.6" fill="#fff" stroke="#555" stroke-width="1.1"/>
<circle cx="1316.1" cy="939.0" r="2.6" fill="#fff" stroke="#555" stroke-width="1.1"/>
<circle cx="1301.2" cy="1073.7" r="3.4" fill="#fff" stroke="#4a4a4a" stroke-width="1.4"/>
<circle cx="1301.2" cy="1073.7" r="1.1" fill="#222"/>
<circle cx="1318.0" cy="1069.9" r="3.4" fill="#fff" stroke="#4a4a4a" stroke-width="1.4"/>
<circle cx="1318.0" cy="1069.9" r="1.1" fill="#222"/>
<rect x="798.6" y="930.3" width="6.4" height="9" rx="1.5" fill="#fff" stroke="#555" stroke-width="1.2"/>
<circle cx="801.8" cy="934.8" r="1.5" fill="#fff" stroke="#555" stroke-width="0.8"/>
<circle cx="801.8" cy="940.8" r="1.0" fill="#333"/>
<circle cx="801.8" cy="944.4" r="1.0" fill="#333"/>
<circle cx="801.8" cy="948.0" r="1.0" fill="#333"/>
<circle cx="801.8" cy="951.6" r="1.0" fill="#333"/>
<circle cx="801.8" cy="955.2" r="1.0" fill="#333"/>
<circle cx="801.8" cy="958.8" r="1.0" fill="#333"/>
<circle cx="801.8" cy="962.4" r="1.0" fill="#333"/>
<polygon points="801.8,970.5 799.4,966.3 804.2,966.3" fill="#222" stroke="#222" stroke-width="0.5" stroke-linejoin="round"/>
<ellipse cx="802.8" cy="973.0" rx="3" ry="2.1" fill="#fff" stroke="#555" stroke-width="1"/>
<rect x="814.6" y="927.6" width="6.4" height="9" rx="1.5" fill="#fff" stroke="#555" stroke-width="1.2"/>
<circle cx="817.8" cy="932.1" r="1.5" fill="#fff" stroke="#555" stroke-width="0.8"/>
<circle cx="817.8" cy="938.1" r="1.0" fill="#333"/>
<circle cx="817.8" cy="941.7" r="1.0" fill="#333"/>
<circle cx="817.8" cy="945.3" r="1.0" fill="#333"/>
<circle cx="817.8" cy="948.9" r="1.0" fill="#333"/>
<circle cx="817.8" cy="952.5" r="1.0" fill="#333"/>
<circle cx="817.8" cy="956.1" r="1.0" fill="#333"/>
<circle cx="817.8" cy="959.7" r="1.0" fill="#333"/>
<polygon points="817.8,967.2 815.4,963.0 820.2,963.0" fill="#222" stroke="#222" stroke-width="0.5" stroke-linejoin="round"/>
<ellipse cx="818.8" cy="969.7" rx="3" ry="2.1" fill="#fff" stroke="#555" stroke-width="1"/>
<rect x="1213.1" y="847.1" width="6.4" height="9" rx="1.5" fill="#fff" stroke="#555" stroke-width="1.2"/>
<circle cx="1216.3" cy="851.6" r="1.5" fill="#fff" stroke="#555" stroke-width="0.8"/>
<circle cx="1216.3" cy="857.6" r="1.0" fill="#333"/>
<circle cx="1216.3" cy="861.2" r="1.0" fill="#333"/>
<circle cx="1216.3" cy="864.8" r="1.0" fill="#333"/>
<circle cx="1216.3" cy="868.4" r="1.0" fill="#333"/>
<circle cx="1216.3" cy="872.0" r="1.0" fill="#333"/>
<circle cx="1216.3" cy="875.6" r="1.0" fill="#333"/>
<circle cx="1216.3" cy="879.2" r="1.0" fill="#333"/>
<polygon points="1216.3,885.0 1213.9,880.8 1218.7,880.8" fill="#222" stroke="#222" stroke-width="0.5" stroke-linejoin="round"/>
<ellipse cx="1217.3" cy="887.5" rx="3" ry="2.1" fill="#fff" stroke="#555" stroke-width="1"/>
<rect x="1228.5" y="843.8" width="6.4" height="9" rx="1.5" fill="#fff" stroke="#555" stroke-width="1.2"/>
<circle cx="1231.7" cy="848.3" r="1.5" fill="#fff" stroke="#555" stroke-width="0.8"/>
<circle cx="1231.7" cy="854.3" r="1.0" fill="#333"/>
<circle cx="1231.7" cy="857.9" r="1.0" fill="#333"/>
<circle cx="1231.7" cy="861.5" r="1.0" fill="#333"/>
<circle cx="1231.7" cy="865.1" r="1.0" fill="#333"/>
<circle cx="1231.7" cy="868.7" r="1.0" fill="#333"/>
<circle cx="1231.7" cy="872.3" r="1.0" fill="#333"/>
<circle cx="1231.7" cy="875.9" r="1.0" fill="#333"/>
<polygon points="1231.7,881.5 1229.3,877.3 1234.1,877.3" fill="#222" stroke="#222" stroke-width="0.5" stroke-linejoin="round"/>
<ellipse cx="1232.7" cy="884.0" rx="3" ry="2.1" fill="#fff" stroke="#555" stroke-width="1"/>
<rect x="875.5" y="974.3" width="6.4" height="9" rx="1.5" fill="#fff" stroke="#555" stroke-width="1.2"/>
<circle cx="878.7" cy="978.8" r="1.5" fill="#fff" stroke="#555" stroke-width="0.8"/>
<circle cx="878.7" cy="984.8" r="1.0" fill="#333"/>
<circle cx="878.7" cy="988.4" r="1.0" fill="#333"/>
<circle cx="878.7" cy="992.0" r="1.0" fill="#333"/>
<circle cx="878.7" cy="995.6" r="1.0" fill="#333"/>
<circle cx="878.7" cy="999.2" r="1.0" fill="#333"/>
<circle cx="878.7" cy="1002.8" r="1.0" fill="#333"/>
<circle cx="878.7" cy="1006.4" r="1.0" fill="#333"/>
<polygon points="878.7,1014.4 876.3,1010.2 881.1,1010.2" fill="#222" stroke="#222" stroke-width="0.5" stroke-linejoin="round"/>
<rect x="892.0" y="972.1" width="6.4" height="9" rx="1.5" fill="#fff" stroke="#555" stroke-width="1.2"/>
<circle cx="895.2" cy="976.6" r="1.5" fill="#fff" stroke="#555" stroke-width="0.8"/>
<circle cx="895.2" cy="982.6" r="1.0" fill="#333"/>
<circle cx="895.2" cy="986.2" r="1.0" fill="#333"/>
<circle cx="895.2" cy="989.8" r="1.0" fill="#333"/>
<circle cx="895.2" cy="993.4" r="1.0" fill="#333"/>
<circle cx="895.2" cy="997.0" r="1.0" fill="#333"/>
<circle cx="895.2" cy="1000.6" r="1.0" fill="#333"/>
<circle cx="895.2" cy="1004.2" r="1.0" fill="#333"/>
<polygon points="895.2,1012.2 892.8,1008.0 897.6,1008.0" fill="#222" stroke="#222" stroke-width="0.5" stroke-linejoin="round"/>
<rect x="1287.6" y="886.4" width="6.4" height="9" rx="1.5" fill="#fff" stroke="#555" stroke-width="1.2"/>
<circle cx="1290.8" cy="890.9" r="1.5" fill="#fff" stroke="#555" stroke-width="0.8"/>
<circle cx="1290.8" cy="896.9" r="1.0" fill="#333"/>
<circle cx="1290.8" cy="900.5" r="1.0" fill="#333"/>
<circle cx="1290.8" cy="904.1" r="1.0" fill="#333"/>
<circle cx="1290.8" cy="907.7" r="1.0" fill="#333"/>
<circle cx="1290.8" cy="911.3" r="1.0" fill="#333"/>
<circle cx="1290.8" cy="914.9" r="1.0" fill="#333"/>
<circle cx="1290.8" cy="918.5" r="1.0" fill="#333"/>
<polygon points="1290.8,925.2 1288.4,921.0 1293.2,921.0" fill="#222" stroke="#222" stroke-width="0.5" stroke-linejoin="round"/>
<rect x="1304.4" y="883.7" width="6.4" height="9" rx="1.5" fill="#fff" stroke="#555" stroke-width="1.2"/>
<circle cx="1307.6" cy="888.2" r="1.5" fill="#fff" stroke="#555" stroke-width="0.8"/>
<circle cx="1307.6" cy="894.2" r="1.0" fill="#333"/>
<circle cx="1307.6" cy="897.8" r="1.0" fill="#333"/>
<circle cx="1307.6" cy="901.4" r="1.0" fill="#333"/>
<circle cx="1307.6" cy="905.0" r="1.0" fill="#333"/>
<circle cx="1307.6" cy="908.6" r="1.0" fill="#333"/>
<circle cx="1307.6" cy="912.2" r="1.0" fill="#333"/>
<circle cx="1307.6" cy="915.8" r="1.0" fill="#333"/>
<polygon points="1307.6,921.9 1305.2,917.7 1310.0,917.7" fill="#222" stroke="#222" stroke-width="0.5" stroke-linejoin="round"/>
<circle cx="699.2" cy="909.2" r="5.4" fill="#fff" stroke="#8a8a8a" stroke-width="1.8"/>
<line x1="699.2" y1="909.2" x2="725.2" y2="925.0" stroke="#161616" stroke-width="7" stroke-linecap="round"/>
<line x1="699.2" y1="909.2" x2="725.2" y2="925.0" stroke="#4a4a4a" stroke-width="3"/>
<circle cx="725.2" cy="925.0" r="3.4" fill="#fff" stroke="#888" stroke-width="1.1"/>
<circle cx="716.5" cy="901.5" r="5.4" fill="#fff" stroke="#8a8a8a" stroke-width="1.8"/>
<line x1="716.5" y1="901.5" x2="743.2" y2="918.5" stroke="#161616" stroke-width="7" stroke-linecap="round"/>
<line x1="716.5" y1="901.5" x2="743.2" y2="918.5" stroke="#4a4a4a" stroke-width="3"/>
<circle cx="743.2" cy="918.5" r="3.4" fill="#fff" stroke="#888" stroke-width="1.1"/>
<circle cx="734.9" cy="929.6" r="1.0" fill="#333"/>
<circle cx="738.9" cy="931.9" r="1.0" fill="#333"/>
<circle cx="742.8" cy="934.3" r="1.0" fill="#333"/>
<circle cx="746.8" cy="936.6" r="1.0" fill="#333"/>
<circle cx="750.8" cy="938.9" r="1.0" fill="#333"/>
<circle cx="754.7" cy="941.2" r="1.0" fill="#333"/>
<circle cx="758.7" cy="943.6" r="1.0" fill="#333"/>
<circle cx="762.7" cy="945.9" r="1.0" fill="#333"/>
<circle cx="766.6" cy="948.2" r="1.0" fill="#333"/>
<polygon points="772.2,951.5 767.4,951.4 769.8,947.3" fill="#222" stroke="#222" stroke-width="0.5" stroke-linejoin="round"/>
<circle cx="749.2" cy="926.3" r="1.0" fill="#333"/>
<circle cx="753.2" cy="928.7" r="1.0" fill="#333"/>
<circle cx="757.1" cy="931.0" r="1.0" fill="#333"/>
<circle cx="761.1" cy="933.4" r="1.0" fill="#333"/>
<circle cx="765.0" cy="935.7" r="1.0" fill="#333"/>
<circle cx="769.0" cy="938.1" r="1.0" fill="#333"/>
<circle cx="772.9" cy="940.4" r="1.0" fill="#333"/>
<circle cx="776.9" cy="942.8" r="1.0" fill="#333"/>
<polygon points="784.3,947.2 779.5,947.1 781.9,943.0" fill="#222" stroke="#222" stroke-width="0.5" stroke-linejoin="round"/>
<rect x="745.7" y="857.8" width="34.6" height="32.4" rx="9.2" fill="#fff" stroke="#5a5452" stroke-width="1.5"/>
<rect x="747.6" y="859.7" width="30.8" height="28.6" rx="7.5" fill="#231815"/>
<text x="763.0" y="880.6" font-family="Liberation Sans" font-weight="bold" font-size="18.5" fill="#fff" text-anchor="middle">5</text>
<line x1="748.0" y1="890.5" x2="733.8" y2="907.0" stroke="#666" stroke-width="1"/>
<circle cx="1105.4" cy="827.5" r="5.4" fill="#fff" stroke="#8a8a8a" stroke-width="1.8"/>
<line x1="1105.4" y1="827.5" x2="1132.9" y2="842.8" stroke="#161616" stroke-width="7" stroke-linecap="round"/>
<line x1="1105.4" y1="827.5" x2="1132.9" y2="842.8" stroke="#4a4a4a" stroke-width="3"/>
<circle cx="1132.9" cy="842.8" r="3.4" fill="#fff" stroke="#888" stroke-width="1.1"/>
<circle cx="1124.1" cy="820.9" r="5.4" fill="#fff" stroke="#8a8a8a" stroke-width="1.8"/>
<line x1="1124.1" y1="820.9" x2="1150.4" y2="836.2" stroke="#161616" stroke-width="7" stroke-linecap="round"/>
<line x1="1124.1" y1="820.9" x2="1150.4" y2="836.2" stroke="#4a4a4a" stroke-width="3"/>
<circle cx="1150.4" cy="836.2" r="3.4" fill="#fff" stroke="#888" stroke-width="1.1"/>
<circle cx="1141.7" cy="847.2" r="1.0" fill="#333"/>
<circle cx="1145.6" cy="849.6" r="1.0" fill="#333"/>
<circle cx="1149.5" cy="852.0" r="1.0" fill="#333"/>
<circle cx="1153.5" cy="854.4" r="1.0" fill="#333"/>
<circle cx="1157.4" cy="856.8" r="1.0" fill="#333"/>
<circle cx="1161.3" cy="859.2" r="1.0" fill="#333"/>
<circle cx="1165.2" cy="861.6" r="1.0" fill="#333"/>
<circle cx="1169.2" cy="864.0" r="1.0" fill="#333"/>
<circle cx="1173.1" cy="866.4" r="1.0" fill="#333"/>
<polygon points="1180.1,870.7 1175.3,870.6 1177.8,866.5" fill="#222" stroke="#222" stroke-width="0.5" stroke-linejoin="round"/>
<circle cx="1157.0" cy="842.8" r="1.0" fill="#333"/>
<circle cx="1160.8" cy="845.3" r="1.0" fill="#333"/>
<circle cx="1164.7" cy="847.9" r="1.0" fill="#333"/>
<circle cx="1168.5" cy="850.4" r="1.0" fill="#333"/>
<circle cx="1172.4" cy="852.9" r="1.0" fill="#333"/>
<circle cx="1176.2" cy="855.4" r="1.0" fill="#333"/>
<circle cx="1180.1" cy="858.0" r="1.0" fill="#333"/>
<circle cx="1183.9" cy="860.5" r="1.0" fill="#333"/>
<circle cx="1187.8" cy="863.0" r="1.0" fill="#333"/>
<polygon points="1195.5,868.1 1190.7,867.8 1193.3,863.8" fill="#222" stroke="#222" stroke-width="0.5" stroke-linejoin="round"/>
<rect x="945.5" y="886.5" width="34.6" height="32.4" rx="9.2" fill="#fff" stroke="#5a5452" stroke-width="1.5"/>
<rect x="947.4" y="888.4" width="30.8" height="28.6" rx="7.5" fill="#231815"/>
<text x="962.8" y="909.3" font-family="Liberation Sans" font-weight="bold" font-size="18.5" fill="#fff" text-anchor="middle">3</text>
<line x1="962.0" y1="919.2" x2="961.8" y2="939.5" stroke="#666" stroke-width="1"/>
<line x1="984.0" y1="1089.4" x2="1011.5" y2="1104.8" stroke="#161616" stroke-width="7"/>
<line x1="984.0" y1="1089.4" x2="1011.5" y2="1104.8" stroke="#474747" stroke-width="3"/>
<circle cx="1011.5" cy="1104.8" r="5.2" fill="#fff" stroke="#888" stroke-width="1.5"/>
<circle cx="1011.5" cy="1104.8" r="1.7" fill="#fff" stroke="#555" stroke-width="1.1"/>
<line x1="1004.9" y1="1085.0" x2="1032.3" y2="1101.5" stroke="#161616" stroke-width="7"/>
<line x1="1004.9" y1="1085.0" x2="1032.3" y2="1101.5" stroke="#474747" stroke-width="3"/>
<circle cx="1032.3" cy="1101.5" r="5.2" fill="#fff" stroke="#888" stroke-width="1.5"/>
<circle cx="1032.3" cy="1101.5" r="1.7" fill="#fff" stroke="#555" stroke-width="1.1"/>
<circle cx="978.0" cy="1084.0" r="1.0" fill="#333"/>
<circle cx="974.1" cy="1081.6" r="1.0" fill="#333"/>
<circle cx="970.1" cy="1079.2" r="1.0" fill="#333"/>
<circle cx="966.2" cy="1076.8" r="1.0" fill="#333"/>
<circle cx="962.3" cy="1074.5" r="1.0" fill="#333"/>
<circle cx="958.3" cy="1072.1" r="1.0" fill="#333"/>
<circle cx="954.4" cy="1069.7" r="1.0" fill="#333"/>
<circle cx="950.5" cy="1067.3" r="1.0" fill="#333"/>
<circle cx="946.5" cy="1064.9" r="1.0" fill="#333"/>
<circle cx="942.6" cy="1062.5" r="1.0" fill="#333"/>
<circle cx="938.7" cy="1060.1" r="1.0" fill="#333"/>
<circle cx="934.7" cy="1057.8" r="1.0" fill="#333"/>
<circle cx="930.8" cy="1055.4" r="1.0" fill="#333"/>
<circle cx="926.9" cy="1053.0" r="1.0" fill="#333"/>
<circle cx="922.9" cy="1050.6" r="1.0" fill="#333"/>
<circle cx="919.0" cy="1048.2" r="1.0" fill="#333"/>
<circle cx="915.1" cy="1045.8" r="1.0" fill="#333"/>
<circle cx="911.1" cy="1043.4" r="1.0" fill="#333"/>
<circle cx="907.2" cy="1041.1" r="1.0" fill="#333"/>
<circle cx="903.3" cy="1038.7" r="1.0" fill="#333"/>
<circle cx="899.3" cy="1036.3" r="1.0" fill="#333"/>
<polygon points="894.1,1033.1 898.9,1033.2 896.4,1037.3" fill="#222" stroke="#222" stroke-width="0.5" stroke-linejoin="round"/>
<circle cx="996.0" cy="1080.0" r="1.0" fill="#333"/>
<circle cx="992.0" cy="1077.6" r="1.0" fill="#333"/>
<circle cx="988.1" cy="1075.3" r="1.0" fill="#333"/>
<circle cx="984.1" cy="1072.9" r="1.0" fill="#333"/>
<circle cx="980.2" cy="1070.6" r="1.0" fill="#333"/>
<circle cx="976.2" cy="1068.2" r="1.0" fill="#333"/>
<circle cx="972.3" cy="1065.9" r="1.0" fill="#333"/>
<circle cx="968.3" cy="1063.5" r="1.0" fill="#333"/>
<circle cx="964.4" cy="1061.2" r="1.0" fill="#333"/>
<circle cx="960.4" cy="1058.8" r="1.0" fill="#333"/>
<circle cx="956.5" cy="1056.5" r="1.0" fill="#333"/>
<circle cx="952.5" cy="1054.1" r="1.0" fill="#333"/>
<circle cx="948.6" cy="1051.8" r="1.0" fill="#333"/>
<circle cx="944.6" cy="1049.4" r="1.0" fill="#333"/>
<circle cx="940.7" cy="1047.1" r="1.0" fill="#333"/>
<circle cx="936.7" cy="1044.7" r="1.0" fill="#333"/>
<circle cx="932.8" cy="1042.3" r="1.0" fill="#333"/>
<circle cx="928.8" cy="1040.0" r="1.0" fill="#333"/>
<circle cx="924.9" cy="1037.6" r="1.0" fill="#333"/>
<circle cx="920.9" cy="1035.3" r="1.0" fill="#333"/>
<circle cx="917.0" cy="1032.9" r="1.0" fill="#333"/>
<polygon points="911.7,1029.8 916.5,1029.9 914.1,1034.0" fill="#222" stroke="#222" stroke-width="0.5" stroke-linejoin="round"/>
<line x1="1394.0" y1="1003.8" x2="1421.4" y2="1019.6" stroke="#161616" stroke-width="7"/>
<line x1="1394.0" y1="1003.8" x2="1421.4" y2="1019.6" stroke="#474747" stroke-width="3"/>
<circle cx="1421.4" cy="1019.6" r="5.2" fill="#fff" stroke="#888" stroke-width="1.5"/>
<circle cx="1421.4" cy="1019.6" r="1.7" fill="#fff" stroke="#555" stroke-width="1.1"/>
<line x1="1416.1" y1="1000.2" x2="1442.5" y2="1015.2" stroke="#161616" stroke-width="7"/>
<line x1="1416.1" y1="1000.2" x2="1442.5" y2="1015.2" stroke="#474747" stroke-width="3"/>
<circle cx="1442.5" cy="1015.2" r="5.2" fill="#fff" stroke="#888" stroke-width="1.5"/>
<circle cx="1442.5" cy="1015.2" r="1.7" fill="#fff" stroke="#555" stroke-width="1.1"/>
<circle cx="1387.9" cy="999.4" r="1.0" fill="#333"/>
<circle cx="1384.0" cy="997.0" r="1.0" fill="#333"/>
<circle cx="1380.0" cy="994.6" r="1.0" fill="#333"/>
<circle cx="1376.1" cy="992.3" r="1.0" fill="#333"/>
<circle cx="1372.2" cy="989.9" r="1.0" fill="#333"/>
<circle cx="1368.2" cy="987.5" r="1.0" fill="#333"/>
<circle cx="1364.3" cy="985.1" r="1.0" fill="#333"/>
<circle cx="1360.3" cy="982.7" r="1.0" fill="#333"/>
<circle cx="1356.4" cy="980.4" r="1.0" fill="#333"/>
<circle cx="1352.5" cy="978.0" r="1.0" fill="#333"/>
<circle cx="1348.5" cy="975.6" r="1.0" fill="#333"/>
<circle cx="1344.6" cy="973.2" r="1.0" fill="#333"/>
<circle cx="1340.7" cy="970.8" r="1.0" fill="#333"/>
<circle cx="1336.7" cy="968.5" r="1.0" fill="#333"/>
<circle cx="1332.8" cy="966.1" r="1.0" fill="#333"/>
<circle cx="1328.9" cy="963.7" r="1.0" fill="#333"/>
<circle cx="1324.9" cy="961.3" r="1.0" fill="#333"/>
<circle cx="1321.0" cy="958.9" r="1.0" fill="#333"/>
<circle cx="1317.0" cy="956.6" r="1.0" fill="#333"/>
<circle cx="1313.1" cy="954.2" r="1.0" fill="#333"/>
<circle cx="1309.2" cy="951.8" r="1.0" fill="#333"/>
<polygon points="1303.2,948.2 1308.0,948.3 1305.6,952.4" fill="#222" stroke="#222" stroke-width="0.5" stroke-linejoin="round"/>
<circle cx="1404.6" cy="995.8" r="1.0" fill="#333"/>
<circle cx="1400.7" cy="993.4" r="1.0" fill="#333"/>
<circle cx="1396.8" cy="990.9" r="1.0" fill="#333"/>
<circle cx="1392.9" cy="988.5" r="1.0" fill="#333"/>
<circle cx="1389.0" cy="986.1" r="1.0" fill="#333"/>
<circle cx="1385.1" cy="983.6" r="1.0" fill="#333"/>
<circle cx="1381.2" cy="981.2" r="1.0" fill="#333"/>
<circle cx="1377.3" cy="978.8" r="1.0" fill="#333"/>
<circle cx="1373.4" cy="976.3" r="1.0" fill="#333"/>
<circle cx="1369.5" cy="973.9" r="1.0" fill="#333"/>
<circle cx="1365.6" cy="971.5" r="1.0" fill="#333"/>
<circle cx="1361.7" cy="969.0" r="1.0" fill="#333"/>
<circle cx="1357.8" cy="966.6" r="1.0" fill="#333"/>
<circle cx="1353.8" cy="964.2" r="1.0" fill="#333"/>
<circle cx="1349.9" cy="961.7" r="1.0" fill="#333"/>
<circle cx="1346.0" cy="959.3" r="1.0" fill="#333"/>
<circle cx="1342.1" cy="956.9" r="1.0" fill="#333"/>
<circle cx="1338.2" cy="954.4" r="1.0" fill="#333"/>
<circle cx="1334.3" cy="952.0" r="1.0" fill="#333"/>
<circle cx="1330.4" cy="949.6" r="1.0" fill="#333"/>
<polygon points="1322.6,944.7 1327.4,944.9 1324.9,949.0" fill="#222" stroke="#222" stroke-width="0.5" stroke-linejoin="round"/>
<polyline points="48.5,1007.0 48.5,1282.2 84.0,1276.2 84.0,1028.0" fill="#fff" stroke="#6a6a6a" stroke-width="1.3" stroke-linejoin="round"/>
<line x1="53.0" y1="1009.5" x2="53.0" y2="1281.5" stroke="#6a6a6a" stroke-width="1.3"/>
<polygon points="462.0,999.5 462.0,1200.0 498.5,1194.0 498.5,993.0" fill="#fff" stroke="none" stroke-width="0" stroke-linejoin="round"/>
<line x1="462.0" y1="999.5" x2="462.0" y2="1200.0" stroke="#6a6a6a" stroke-width="1.3"/>
<line x1="466.3" y1="999.0" x2="466.3" y2="1200.0" stroke="#6a6a6a" stroke-width="1.3"/>
<line x1="498.5" y1="993.0" x2="498.5" y2="1194.0" stroke="#6a6a6a" stroke-width="1.3"/>
<polygon points="52.8,1118.4 498.3,1029.8 516.2,1040.8 555.0,1063.2 555.0,1100.7 140.5,1183.1 52.8,1131.2" fill="#fff" stroke="none" stroke-width="0" stroke-linejoin="round"/>
<line x1="52.8" y1="1118.4" x2="498.3" y2="1029.8" stroke="#6a6a6a" stroke-width="1.3"/>
<line x1="70.1" y1="1128.1" x2="516.2" y2="1040.0" stroke="#6a6a6a" stroke-width="1.3"/>
<line x1="70.1" y1="1132.6" x2="523.0" y2="1044.2" stroke="#6a6a6a" stroke-width="1.3"/>
<line x1="94.0" y1="1141.4" x2="541.2" y2="1055.2" stroke="#6a6a6a" stroke-width="1.3"/>
<line x1="94.0" y1="1146.6" x2="547.7" y2="1059.2" stroke="#6a6a6a" stroke-width="1.3"/>
<line x1="117.4" y1="1155.6" x2="555.0" y2="1070.7" stroke="#6a6a6a" stroke-width="1.3"/>
<line x1="117.4" y1="1160.9" x2="555.0" y2="1074.5" stroke="#6a6a6a" stroke-width="1.3"/>
<line x1="141.0" y1="1169.3" x2="555.0" y2="1087.1" stroke="#6a6a6a" stroke-width="1.3"/>
<line x1="141.0" y1="1174.5" x2="555.0" y2="1092.7" stroke="#6a6a6a" stroke-width="1.3"/>
<line x1="52.8" y1="1118.4" x2="70.1" y2="1128.7" stroke="#6a6a6a" stroke-width="1.3"/>
<line x1="70.1" y1="1128.7" x2="70.1" y2="1132.3" stroke="#6a6a6a" stroke-width="1.3"/>
<line x1="70.1" y1="1132.3" x2="76.7" y2="1132.4" stroke="#6a6a6a" stroke-width="1.3"/>
<line x1="76.7" y1="1132.4" x2="94.0" y2="1142.7" stroke="#6a6a6a" stroke-width="1.3"/>
<line x1="94.0" y1="1142.7" x2="94.0" y2="1146.3" stroke="#6a6a6a" stroke-width="1.3"/>
<line x1="94.0" y1="1146.3" x2="100.1" y2="1146.4" stroke="#6a6a6a" stroke-width="1.3"/>
<line x1="100.1" y1="1146.4" x2="117.4" y2="1156.7" stroke="#6a6a6a" stroke-width="1.3"/>
<line x1="117.4" y1="1156.7" x2="117.4" y2="1160.3" stroke="#6a6a6a" stroke-width="1.3"/>
<line x1="117.4" y1="1160.3" x2="124.0" y2="1160.4" stroke="#6a6a6a" stroke-width="1.3"/>
<line x1="124.0" y1="1160.4" x2="141.3" y2="1170.7" stroke="#6a6a6a" stroke-width="1.3"/>
<line x1="141.3" y1="1170.7" x2="141.3" y2="1174.3" stroke="#6a6a6a" stroke-width="1.3"/>
<line x1="52.8" y1="1123.0" x2="140.5" y2="1174.9" stroke="#6a6a6a" stroke-width="1.3"/>
<line x1="52.8" y1="1131.2" x2="140.5" y2="1183.1" stroke="#6a6a6a" stroke-width="1.3"/>
<line x1="498.3" y1="1029.8" x2="516.2" y2="1040.0" stroke="#6a6a6a" stroke-width="1.3"/>
<line x1="516.2" y1="1040.0" x2="516.2" y2="1045.6" stroke="#6a6a6a" stroke-width="1.3"/>
<line x1="523.0" y1="1044.2" x2="541.2" y2="1055.2" stroke="#6a6a6a" stroke-width="1.3"/>
<line x1="541.2" y1="1055.2" x2="541.2" y2="1060.4" stroke="#6a6a6a" stroke-width="1.3"/>
<line x1="547.7" y1="1059.2" x2="555.0" y2="1063.4" stroke="#6a6a6a" stroke-width="1.3"/>
<line x1="544.3" y1="1095.3" x2="555.0" y2="1101.3" stroke="#6a6a6a" stroke-width="1.3"/>
<polygon points="52.8,1242.6 498.3,1153.9 516.2,1164.9 555.0,1187.7 555.0,1228.3 140.5,1307.3 52.8,1255.4" fill="#fff" stroke="none" stroke-width="0" stroke-linejoin="round"/>
<line x1="52.8" y1="1242.6" x2="498.3" y2="1153.9" stroke="#6a6a6a" stroke-width="1.3"/>
<line x1="70.1" y1="1251.5" x2="516.2" y2="1164.9" stroke="#6a6a6a" stroke-width="1.3"/>
<line x1="70.1" y1="1256.6" x2="523.0" y2="1168.8" stroke="#6a6a6a" stroke-width="1.3"/>
<line x1="94.0" y1="1265.1" x2="541.2" y2="1179.9" stroke="#6a6a6a" stroke-width="1.3"/>
<line x1="94.0" y1="1270.7" x2="547.7" y2="1183.7" stroke="#6a6a6a" stroke-width="1.3"/>
<line x1="117.4" y1="1279.5" x2="555.0" y2="1196.2" stroke="#6a6a6a" stroke-width="1.3"/>
<line x1="117.4" y1="1285.1" x2="555.0" y2="1200.8" stroke="#6a6a6a" stroke-width="1.3"/>
<line x1="141.0" y1="1293.8" x2="555.0" y2="1215.0" stroke="#6a6a6a" stroke-width="1.3"/>
<line x1="141.0" y1="1298.6" x2="555.0" y2="1220.3" stroke="#6a6a6a" stroke-width="1.3"/>
<line x1="52.8" y1="1242.6" x2="70.1" y2="1252.9" stroke="#6a6a6a" stroke-width="1.3"/>
<line x1="70.1" y1="1252.9" x2="70.1" y2="1256.5" stroke="#6a6a6a" stroke-width="1.3"/>
<line x1="70.1" y1="1256.5" x2="76.7" y2="1256.6" stroke="#6a6a6a" stroke-width="1.3"/>
<line x1="76.7" y1="1256.6" x2="94.0" y2="1266.9" stroke="#6a6a6a" stroke-width="1.3"/>
<line x1="94.0" y1="1266.9" x2="94.0" y2="1270.5" stroke="#6a6a6a" stroke-width="1.3"/>
<line x1="94.0" y1="1270.5" x2="100.1" y2="1270.6" stroke="#6a6a6a" stroke-width="1.3"/>
<line x1="100.1" y1="1270.6" x2="117.4" y2="1280.9" stroke="#6a6a6a" stroke-width="1.3"/>
<line x1="117.4" y1="1280.9" x2="117.4" y2="1284.5" stroke="#6a6a6a" stroke-width="1.3"/>
<line x1="117.4" y1="1284.5" x2="124.0" y2="1284.6" stroke="#6a6a6a" stroke-width="1.3"/>
<line x1="124.0" y1="1284.6" x2="141.3" y2="1294.9" stroke="#6a6a6a" stroke-width="1.3"/>
<line x1="141.3" y1="1294.9" x2="141.3" y2="1298.5" stroke="#6a6a6a" stroke-width="1.3"/>
<line x1="52.8" y1="1247.2" x2="140.5" y2="1299.1" stroke="#6a6a6a" stroke-width="1.3"/>
<line x1="52.8" y1="1255.4" x2="140.5" y2="1307.3" stroke="#6a6a6a" stroke-width="1.3"/>
<line x1="498.3" y1="1153.9" x2="516.2" y2="1164.9" stroke="#6a6a6a" stroke-width="1.3"/>
<line x1="516.2" y1="1164.9" x2="516.2" y2="1170.1" stroke="#6a6a6a" stroke-width="1.3"/>
<line x1="523.0" y1="1168.8" x2="541.2" y2="1179.9" stroke="#6a6a6a" stroke-width="1.3"/>
<line x1="541.2" y1="1179.9" x2="541.2" y2="1184.9" stroke="#6a6a6a" stroke-width="1.3"/>
<line x1="547.7" y1="1183.7" x2="555.0" y2="1187.9" stroke="#6a6a6a" stroke-width="1.3"/>
<line x1="544.3" y1="1222.8" x2="555.0" y2="1228.8" stroke="#6a6a6a" stroke-width="1.3"/>
<line x1="462.0" y1="1111.5" x2="462.0" y2="1160.8" stroke="#6a6a6a" stroke-width="1.3"/>
<line x1="466.3" y1="1110.7" x2="466.3" y2="1160.0" stroke="#6a6a6a" stroke-width="1.3"/>
<line x1="498.5" y1="1104.0" x2="498.5" y2="1153.7" stroke="#6a6a6a" stroke-width="1.3"/>
<line x1="84.0" y1="1151.3" x2="84.0" y2="1234.2" stroke="#6a6a6a" stroke-width="1.3"/>
<polygon points="141.0,1062.5 173.0,1054.5 176.5,1056.8 176.5,1331.0 141.0,1336.3" fill="#fff" stroke="none" stroke-width="0" stroke-linejoin="round"/>
<line x1="141.0" y1="1062.0" x2="141.0" y2="1336.3" stroke="#6a6a6a" stroke-width="1.3"/>
<line x1="145.0" y1="1062.0" x2="145.0" y2="1336.3" stroke="#6a6a6a" stroke-width="1.3"/>
<line x1="176.5" y1="1056.0" x2="176.5" y2="1331.0" stroke="#6a6a6a" stroke-width="1.3"/>
<line x1="141.0" y1="1336.3" x2="176.5" y2="1331.0" stroke="#6a6a6a" stroke-width="1.3"/>
<polyline points="141.0,1062.0 141.0,1336.3 176.5,1331.0 176.5,1056.0" fill="#fff" stroke="#6a6a6a" stroke-width="1.3" stroke-linejoin="round"/>
<line x1="145.5" y1="1062.0" x2="145.5" y2="1336.0" stroke="#6a6a6a" stroke-width="1.3"/>
<circle cx="153.7" cy="1181.4" r="3.4" fill="#fff" stroke="#4a4a4a" stroke-width="1.4"/>
<circle cx="153.7" cy="1181.4" r="1.1" fill="#222"/>
<circle cx="169.8" cy="1179.0" r="3.4" fill="#fff" stroke="#4a4a4a" stroke-width="1.4"/>
<circle cx="169.8" cy="1179.0" r="1.1" fill="#222"/>
<circle cx="153.7" cy="1303.9" r="3.4" fill="#fff" stroke="#4a4a4a" stroke-width="1.4"/>
<circle cx="153.7" cy="1303.9" r="1.1" fill="#222"/>
<circle cx="169.8" cy="1301.0" r="3.4" fill="#fff" stroke="#4a4a4a" stroke-width="1.4"/>
<circle cx="169.8" cy="1301.0" r="1.1" fill="#222"/>
<polyline points="555.0,973.0 555.0,1254.8 591.0,1247.1 591.0,966.0" fill="#fff" stroke="#6a6a6a" stroke-width="1.3" stroke-linejoin="round"/>
<line x1="559.5" y1="972.0" x2="559.5" y2="1254.0" stroke="#6a6a6a" stroke-width="1.3"/>
<circle cx="566.2" cy="1096.4" r="3.4" fill="#fff" stroke="#4a4a4a" stroke-width="1.4"/>
<circle cx="566.2" cy="1096.4" r="1.1" fill="#222"/>
<circle cx="583.2" cy="1093.6" r="3.4" fill="#fff" stroke="#4a4a4a" stroke-width="1.4"/>
<circle cx="583.2" cy="1093.6" r="1.1" fill="#222"/>
<circle cx="566.2" cy="1222.4" r="3.4" fill="#fff" stroke="#4a4a4a" stroke-width="1.4"/>
<circle cx="566.2" cy="1222.4" r="1.1" fill="#222"/>
<circle cx="583.2" cy="1219.9" r="3.4" fill="#fff" stroke="#4a4a4a" stroke-width="1.4"/>
<circle cx="583.2" cy="1219.9" r="1.1" fill="#222"/>
<polygon points="38.1,969.1 496.6,878.7 602.0,941.3 143.5,1030.9" fill="#fff" stroke="#6a6a6a" stroke-width="1.3" stroke-linejoin="round"/>
<polygon points="38.1,969.1 143.5,1030.9 143.5,1061.8 38.1,1002.1" fill="#fff" stroke="#6a6a6a" stroke-width="1.3" stroke-linejoin="round"/>
<polygon points="143.5,1030.9 602.0,941.3 602.0,973.1 143.5,1061.8" fill="#fff" stroke="#6a6a6a" stroke-width="1.3" stroke-linejoin="round"/>
<line x1="64.3" y1="963.9" x2="168.2" y2="1026.1" stroke="#2e2e2e" stroke-width="1.4"/>
<line x1="89.8" y1="958.9" x2="193.7" y2="1021.1" stroke="#2e2e2e" stroke-width="1.4"/>
<line x1="115.3" y1="953.9" x2="219.2" y2="1016.1" stroke="#2e2e2e" stroke-width="1.4"/>
<line x1="140.8" y1="948.9" x2="244.7" y2="1011.1" stroke="#2e2e2e" stroke-width="1.4"/>
<line x1="166.3" y1="943.8" x2="270.2" y2="1006.1" stroke="#2e2e2e" stroke-width="1.4"/>
<line x1="191.8" y1="938.8" x2="295.7" y2="1001.2" stroke="#2e2e2e" stroke-width="1.4"/>
<line x1="217.3" y1="933.8" x2="321.2" y2="996.2" stroke="#2e2e2e" stroke-width="1.4"/>
<line x1="242.8" y1="928.8" x2="346.7" y2="991.2" stroke="#2e2e2e" stroke-width="1.4"/>
<line x1="268.3" y1="923.8" x2="372.2" y2="986.2" stroke="#2e2e2e" stroke-width="1.4"/>
<line x1="293.8" y1="918.7" x2="397.7" y2="981.2" stroke="#2e2e2e" stroke-width="1.4"/>
<line x1="319.3" y1="913.7" x2="423.2" y2="976.2" stroke="#2e2e2e" stroke-width="1.4"/>
<line x1="344.8" y1="908.7" x2="448.7" y2="971.3" stroke="#2e2e2e" stroke-width="1.4"/>
<line x1="370.3" y1="903.7" x2="474.2" y2="966.3" stroke="#2e2e2e" stroke-width="1.4"/>
<line x1="395.8" y1="898.6" x2="499.7" y2="961.3" stroke="#2e2e2e" stroke-width="1.4"/>
<line x1="421.3" y1="893.6" x2="525.2" y2="956.3" stroke="#2e2e2e" stroke-width="1.4"/>
<line x1="446.8" y1="888.6" x2="550.7" y2="951.3" stroke="#2e2e2e" stroke-width="1.4"/>
<line x1="472.3" y1="883.6" x2="576.2" y2="946.4" stroke="#2e2e2e" stroke-width="1.4"/>
<circle cx="153.7" cy="1045.2" r="3.4" fill="#fff" stroke="#4a4a4a" stroke-width="1.4"/>
<circle cx="153.7" cy="1045.2" r="1.1" fill="#222"/>
<circle cx="170.5" cy="1042.8" r="3.4" fill="#fff" stroke="#4a4a4a" stroke-width="1.4"/>
<circle cx="170.5" cy="1042.8" r="1.1" fill="#222"/>
<circle cx="565.8" cy="963.2" r="3.4" fill="#fff" stroke="#4a4a4a" stroke-width="1.4"/>
<circle cx="565.8" cy="963.2" r="1.1" fill="#222"/>
<circle cx="583.3" cy="961.0" r="3.4" fill="#fff" stroke="#4a4a4a" stroke-width="1.4"/>
<circle cx="583.3" cy="961.0" r="1.1" fill="#222"/>
</svg>
</body></html>
